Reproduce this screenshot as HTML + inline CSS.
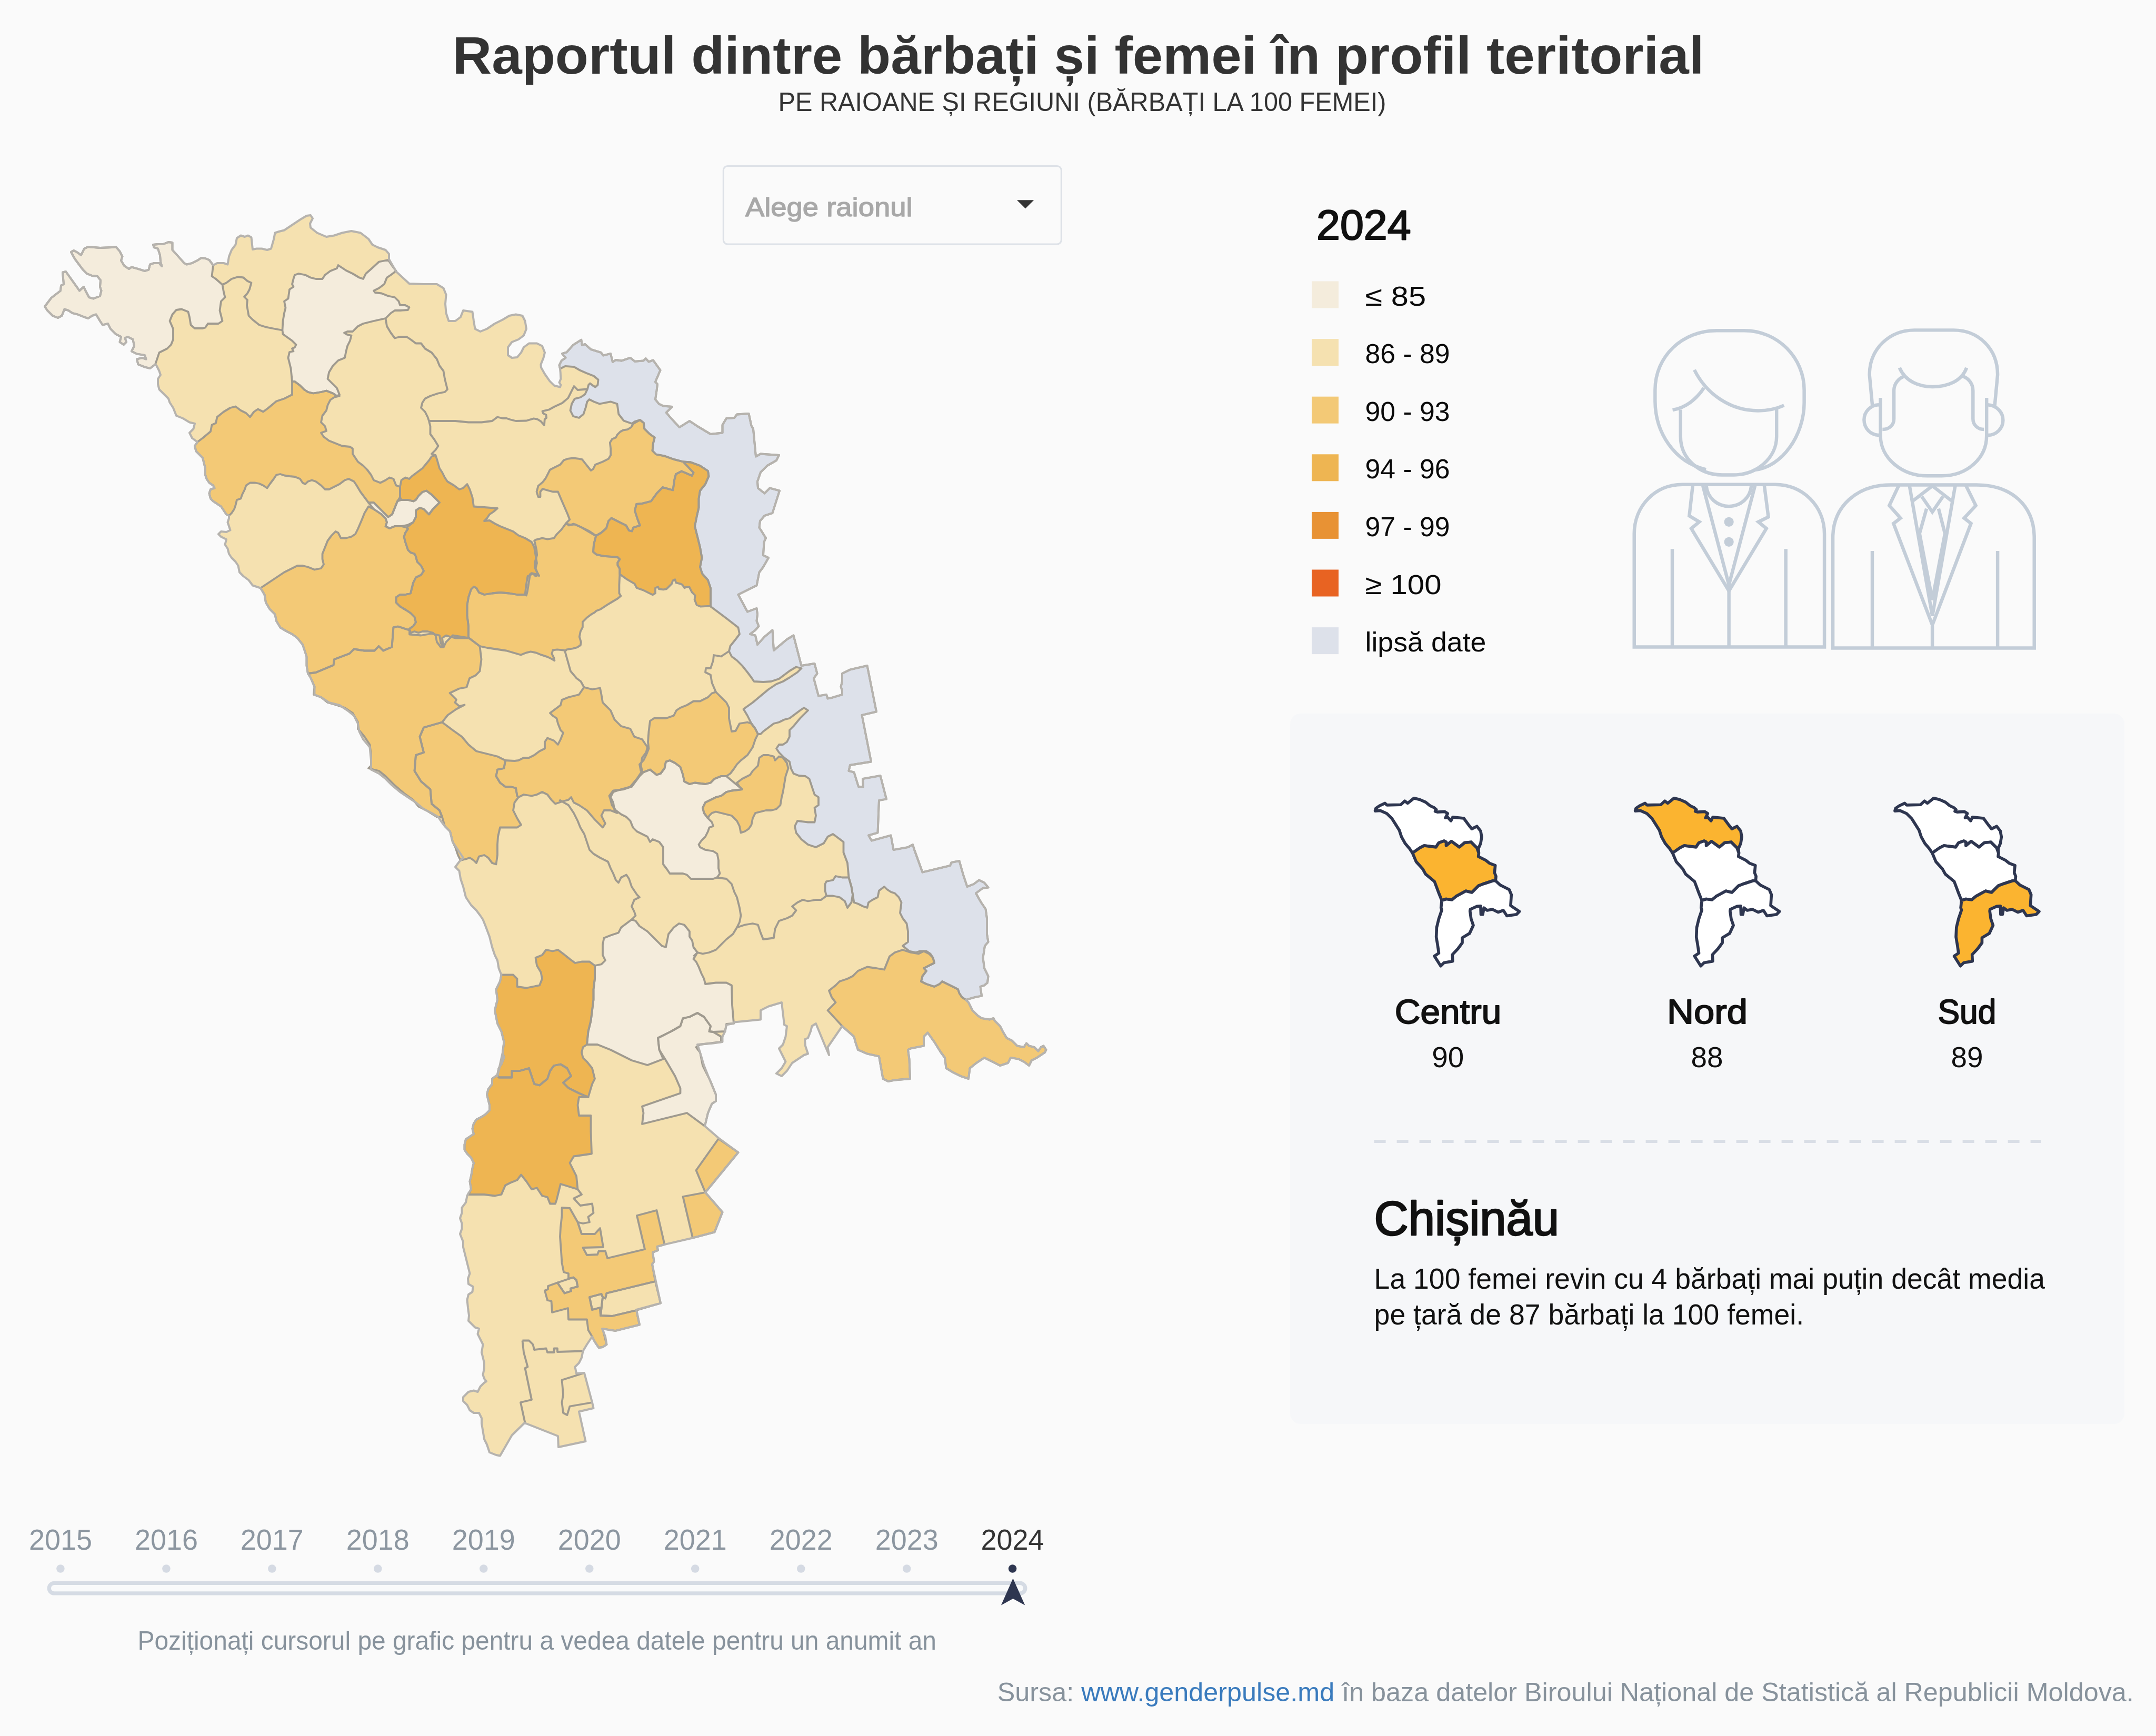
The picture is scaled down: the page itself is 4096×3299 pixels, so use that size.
<!DOCTYPE html>
<html lang="ro"><head><meta charset="utf-8"><title>Raportul dintre bărbați și femei în profil teritorial</title>
<style>
html,body{margin:0;padding:0;background:#fafafa;overflow:hidden;}
svg{display:block;width:100vw;height:auto;}
text{font-family:"Liberation Sans",Arial,sans-serif;}
.b{fill:none;stroke:#9f9a8f;stroke-width:3.8;stroke-linejoin:round;}
</style></head><body>
<svg viewBox="0 0 4096 3299" preserveAspectRatio="xMinYMin meet">
<rect width="4096" height="3299" fill="#fafafa"/>
<g id="map">
<path d="M85.0 582.5 L97.5 566.0 L115.0 552.5 L116.0 542.5 L121.0 540.0 L119.0 517.5 L125.0 516.0 L135.0 530.0 L147.5 547.5 L151.0 552.5 L159.0 545.0 L162.5 552.5 L169.0 565.0 L177.5 567.5 L190.0 562.5 L192.5 552.5 L190.0 545.0 L191.0 532.5 L185.0 525.0 L175.0 524.0 L165.0 520.0 L157.5 512.5 L150.0 502.5 L142.5 492.5 L135.0 479.0 L140.0 476.0 L147.5 480.0 L154.0 485.0 L160.0 472.5 L167.5 469.0 L190.0 471.0 L212.5 470.0 L220.0 469.0 L227.5 477.5 L232.5 487.5 L230.0 495.0 L236.0 505.0 L245.0 511.0 L250.0 507.5 L262.5 511.0 L275.0 515.0 L282.5 512.5 L285.0 502.5 L292.5 500.0 L302.5 500.0 L307.5 506.0 L305.0 497.5 L304.0 485.0 L300.0 472.5 L292.5 470.0 L291.0 465.0 L300.0 464.0 L310.0 464.0 L320.0 460.0 L327.5 461.0 L327.5 475.0 L337.5 486.0 L350.0 500.0 L355.0 502.5 L365.0 500.0 L375.0 495.0 L382.5 490.0 L390.0 491.0 L397.5 494.0 L405.0 504.0 L412.5 500.0 L425.0 500.0 L432.5 502.5 L435.0 487.5 L440.0 475.0 L447.5 465.0 L450.0 452.5 L457.5 447.5 L465.0 450.0 L471.0 447.5 L477.5 451.0 L479.0 465.0 L480.0 474.0 L487.5 472.5 L497.5 472.5 L507.5 475.0 L515.0 472.5 L520.0 455.0 L522.5 442.5 L530.0 440.0 L540.0 437.5 L555.0 427.5 L570.0 417.5 L582.5 410.0 L590.0 409.0 L594.0 415.0 L589.0 425.0 L590.0 432.5 L602.5 442.5 L620.0 450.0 L635.0 447.5 L650.0 442.5 L667.5 439.0 L685.0 442.5 L700.0 454.0 L707.5 465.0 L717.5 470.0 L732.5 475.0 L739.0 482.5 L739.0 492.5 L752.5 516.0 L777.5 539.0 L805.0 540.0 L830.0 540.0 L842.5 547.5 L847.5 560.0 L846.0 577.5 L847.5 595.0 L852.5 610.0 L865.0 610.0 L875.0 602.5 L880.0 590.0 L897.5 592.5 L900.0 610.0 L902.5 625.0 L912.5 630.0 L925.0 625.0 L940.0 615.0 L955.0 607.5 L967.5 600.0 L980.0 597.5 L992.5 600.0 L997.5 610.0 L1000.0 625.0 L995.0 637.5 L985.0 645.0 L972.5 650.0 L965.0 660.0 L965.0 675.0 L972.5 680.0 L982.5 679.0 L990.0 670.0 L995.0 660.0 L1005.0 652.5 L1020.0 652.5 L1030.0 657.5 L1035.0 670.0 L1032.5 680.0 L1027.5 692.5 L1027.8 698.0 L1034.8 710.5 L1044.5 724.4 L1052.9 732.7 L1064.0 735.5 L1065.4 731.3 L1062.5 727.0 L1065.4 720.0 L1064.7 707.5 L1064.0 700.7 L1062.5 693.8 L1066.8 685.4 L1074.5 679.9 L1068.0 672.0 L1076.5 669.4 L1089.0 655.5 L1104.3 645.8 L1105.8 656.0 L1111.3 654.0 L1122.5 663.9 L1142.0 670.0 L1146.0 675.5 L1160.0 672.0 L1164.0 688.0 L1169.8 684.0 L1181.0 685.5 L1197.5 679.9 L1206.0 686.8 L1222.5 685.4 L1226.8 681.2 L1232.4 687.5 L1240.8 684.5 L1254.5 703.5 L1245.0 725.8 L1249.0 730.0 L1247.5 742.5 L1245.0 759.0 L1251.8 767.5 L1260.0 771.5 L1277.0 773.0 L1265.8 784.0 L1272.8 792.5 L1290.8 812.0 L1310.0 800.0 L1325.0 810.0 L1350.0 825.0 L1372.5 822.5 L1372.5 807.5 L1380.0 795.0 L1395.0 794.0 L1400.0 787.5 L1422.5 786.0 L1427.5 809.0 L1431.0 815.0 L1436.0 867.5 L1445.0 862.5 L1480.0 865.0 L1475.0 875.0 L1457.5 885.0 L1445.0 897.5 L1439.0 915.0 L1440.0 927.5 L1452.5 937.5 L1462.5 927.5 L1481.0 932.5 L1467.5 975.0 L1452.5 980.0 L1444.0 990.0 L1442.5 1002.5 L1455.0 1022.5 L1451.5 1030.0 L1450.0 1055.0 L1460.0 1060.0 L1450.0 1077.5 L1442.5 1087.5 L1437.5 1112.5 L1427.5 1117.5 L1402.5 1130.0 L1420.0 1162.5 L1437.5 1156.0 L1439.0 1167.5 L1437.5 1180.0 L1441.5 1190.0 L1435.0 1197.5 L1425.0 1205.0 L1435.0 1207.5 L1439.0 1225.0 L1452.5 1210.0 L1467.5 1197.5 L1470.0 1236.0 L1495.0 1215.0 L1507.5 1207.5 L1522.5 1265.0 L1547.5 1261.0 L1552.5 1280.0 L1546.0 1289.0 L1555.0 1322.5 L1570.0 1320.0 L1572.5 1327.5 L1580.0 1326.0 L1600.0 1320.0 L1600.0 1312.5 L1597.5 1305.0 L1600.0 1295.0 L1600.0 1280.0 L1615.0 1272.5 L1647.5 1265.0 L1665.0 1352.5 L1637.5 1359.0 L1655.0 1447.5 L1615.0 1454.0 L1612.5 1465.0 L1622.5 1467.5 L1631.0 1495.0 L1640.0 1495.0 L1639.0 1480.0 L1672.5 1474.0 L1684.0 1518.5 L1670.0 1521.0 L1667.5 1582.5 L1650.0 1587.5 L1656.0 1597.5 L1692.5 1587.5 L1697.5 1615.0 L1725.0 1610.0 L1734.0 1605.0 L1737.5 1616.0 L1752.5 1657.5 L1805.0 1645.0 L1807.5 1639.0 L1822.5 1636.0 L1830.0 1662.5 L1837.5 1685.0 L1850.0 1680.0 L1860.0 1672.5 L1870.0 1677.5 L1877.5 1686.5 L1867.5 1687.5 L1854.0 1697.5 L1864.0 1715.0 L1872.5 1727.5 L1875.0 1745.0 L1875.0 1775.0 L1877.5 1790.0 L1871.0 1797.5 L1867.5 1820.0 L1870.0 1840.0 L1877.5 1855.0 L1876.0 1867.5 L1870.0 1872.5 L1862.5 1875.0 L1865.0 1892.5 L1852.5 1895.0 L1835.0 1900.0 L1840.0 1905.0 L1847.5 1920.0 L1857.5 1930.0 L1865.0 1935.0 L1880.0 1937.5 L1887.5 1935.0 L1890.0 1940.0 L1900.0 1950.0 L1905.0 1960.0 L1912.5 1972.5 L1922.5 1977.5 L1932.5 1987.5 L1945.0 1990.0 L1950.0 1982.5 L1955.0 1987.5 L1965.0 1990.0 L1972.5 1997.5 L1977.5 1990.0 L1982.5 1987.5 L1987.5 1995.0 L1985.0 2000.0 L1977.5 2005.0 L1970.0 2010.0 L1960.0 2015.0 L1955.0 2025.0 L1945.0 2017.5 L1935.0 2012.5 L1920.0 2010.0 L1915.0 2020.0 L1900.0 2025.0 L1885.0 2017.5 L1870.0 2010.0 L1855.0 2020.0 L1842.5 2030.0 L1840.0 2050.0 L1825.0 2045.0 L1810.0 2037.5 L1797.5 2030.0 L1795.0 2010.0 L1787.5 2000.0 L1775.0 1980.0 L1762.5 1962.5 L1755.0 1970.0 L1755.0 1987.5 L1742.5 1990.0 L1730.0 1992.5 L1725.0 1995.0 L1727.5 2012.5 L1729.0 2050.0 L1700.0 2052.5 L1687.5 2055.0 L1677.5 2050.0 L1670.0 2007.5 L1647.5 2002.5 L1630.0 1995.0 L1625.0 1980.0 L1622.5 1970.0 L1600.0 1950.0 L1572.5 1990.0 L1575.0 2005.0 L1567.5 1987.5 L1550.0 1945.0 L1542.5 1950.0 L1540.0 1960.0 L1535.0 1972.5 L1529.0 1975.0 L1530.0 1987.5 L1535.0 2002.5 L1527.5 2005.0 L1520.0 2010.0 L1505.0 2020.0 L1495.0 2035.0 L1485.0 2045.0 L1475.0 2040.0 L1485.0 2030.0 L1492.5 2017.5 L1487.5 2007.5 L1480.0 1992.5 L1487.5 1985.0 L1492.5 1970.0 L1495.0 1950.0 L1490.0 1947.5 L1485.0 1905.0 L1460.0 1912.5 L1445.0 1920.0 L1445.0 1937.5 L1420.0 1940.0 L1395.0 1942.5 L1392.5 1945.0 L1380.0 1947.5 L1377.5 1960.0 L1372.5 1970.0 L1372.5 1980.0 L1355.0 1982.5 L1325.0 1985.0 L1330.0 2000.0 L1337.5 2025.0 L1347.5 2050.0 L1355.0 2068.0 L1360.0 2080.0 L1360.0 2092.5 L1352.5 2097.5 L1345.0 2115.0 L1339.0 2140.0 L1365.0 2162.5 L1402.5 2190.0 L1340.0 2266.0 L1372.5 2303.5 L1357.5 2341.5 L1316.0 2352.5 L1262.5 2365.0 L1248.5 2369.0 L1250.0 2376.0 L1240.0 2380.0 L1242.5 2397.5 L1239.0 2402.5 L1246.0 2435.0 L1255.0 2476.5 L1209.0 2489.0 L1215.0 2517.5 L1169.0 2529.0 L1144.0 2525.0 L1150.0 2540.0 L1152.5 2555.0 L1145.0 2560.0 L1137.5 2561.0 L1130.0 2550.0 L1125.0 2540.0 L1115.0 2555.0 L1107.5 2567.5 L1105.0 2580.0 L1100.0 2590.0 L1092.5 2597.5 L1095.0 2610.0 L1110.0 2609.0 L1125.0 2665.0 L1127.5 2676.0 L1100.0 2682.5 L1112.5 2739.0 L1061.0 2750.0 L1060.0 2729.0 L996.5 2704.0 L972.5 2727.5 L950.0 2766.5 L942.5 2765.0 L930.0 2760.0 L925.0 2745.0 L920.0 2735.0 L917.5 2720.0 L915.0 2705.0 L915.0 2695.0 L910.0 2685.0 L900.0 2685.0 L892.5 2680.0 L887.5 2670.0 L880.0 2662.5 L880.0 2655.0 L890.0 2645.0 L900.0 2642.5 L907.5 2645.0 L912.5 2635.0 L920.0 2627.5 L924.0 2625.0 L920.0 2620.0 L917.5 2612.5 L920.0 2600.0 L920.0 2590.0 L917.5 2580.0 L915.0 2570.0 L917.5 2555.0 L912.5 2545.0 L907.5 2535.0 L910.0 2525.0 L902.5 2522.5 L897.5 2517.5 L890.0 2510.0 L891.0 2500.0 L889.0 2485.0 L887.5 2470.0 L890.0 2460.0 L897.5 2455.0 L898.5 2445.0 L890.0 2440.0 L889.0 2430.0 L892.5 2420.0 L890.0 2410.0 L887.5 2400.0 L885.0 2390.0 L882.5 2380.0 L880.0 2370.0 L880.0 2360.0 L874.0 2345.0 L877.5 2335.0 L877.5 2325.0 L874.0 2315.0 L877.5 2305.0 L877.5 2295.0 L885.0 2285.0 L887.5 2272.5 L890.0 2267.5 L895.0 2260.0 L892.5 2245.0 L895.0 2235.0 L897.5 2220.0 L900.0 2210.0 L895.0 2200.0 L887.5 2192.5 L882.5 2185.0 L882.5 2175.0 L885.0 2165.0 L892.5 2160.0 L900.0 2155.0 L897.5 2145.0 L900.0 2135.0 L905.0 2127.5 L915.0 2122.5 L922.5 2117.5 L930.0 2110.0 L930.0 2100.0 L927.5 2090.0 L925.0 2080.0 L927.5 2070.0 L935.0 2060.0 L935.0 2050.0 L945.0 2042.5 L947.5 2030.0 L952.5 2022.5 L957.5 2010.0 L955.0 2000.0 L945.0 2045.0 L950.0 2025.0 L955.0 2000.0 L957.5 1980.0 L952.5 1960.0 L945.0 1945.0 L940.0 1920.0 L945.0 1900.0 L942.5 1880.0 L950.0 1865.0 L952.5 1852.5 L947.5 1840.0 L945.0 1825.0 L940.0 1815.0 L935.0 1800.0 L930.0 1780.0 L922.5 1760.0 L917.5 1747.5 L912.5 1740.0 L905.0 1730.0 L895.0 1720.0 L885.0 1705.0 L880.0 1685.0 L875.0 1670.0 L872.5 1655.0 L865.0 1647.5 L872.5 1637.5 L880.0 1630.0 L870.0 1615.0 L860.0 1600.0 L857.5 1590.0 L855.0 1580.0 L845.0 1570.0 L837.5 1560.0 L832.5 1552.5 L820.0 1545.0 L805.0 1537.5 L790.0 1525.0 L775.0 1515.0 L760.0 1505.0 L745.0 1492.5 L732.5 1480.0 L720.0 1470.0 L705.0 1462.5 L705.0 1445.0 L702.5 1420.0 L690.0 1405.0 L682.5 1390.0 L680.0 1375.0 L672.5 1360.0 L660.0 1350.0 L645.0 1340.0 L625.0 1335.0 L610.0 1325.0 L597.5 1320.0 L597.5 1305.0 L590.0 1287.5 L585.0 1280.0 L582.5 1265.0 L582.5 1248.0 L580.0 1240.0 L575.0 1225.0 L565.0 1212.5 L555.0 1205.0 L545.0 1200.0 L532.5 1192.5 L525.0 1180.0 L522.5 1167.5 L512.5 1157.5 L505.0 1145.0 L502.5 1130.0 L495.0 1117.5 L487.5 1115.0 L480.0 1112.5 L472.5 1102.5 L462.5 1095.0 L455.0 1087.5 L452.5 1075.0 L447.5 1067.5 L440.0 1060.0 L435.0 1052.5 L432.5 1042.5 L427.5 1035.0 L430.0 1025.0 L425.0 1022.5 L420.0 1020.0 L415.0 1015.0 L420.0 1010.0 L430.0 1011.0 L437.5 1007.5 L435.0 1000.0 L432.5 992.5 L435.0 985.0 L435.0 980.0 L430.0 977.5 L425.0 970.0 L420.0 962.5 L412.5 957.5 L405.0 952.5 L400.0 947.5 L397.5 937.5 L400.0 930.0 L407.5 927.5 L405.0 922.5 L397.5 917.5 L392.5 910.0 L390.0 902.5 L390.0 890.0 L387.5 880.0 L385.0 870.0 L380.0 865.0 L372.5 857.5 L370.0 847.5 L375.0 840.0 L365.0 832.5 L360.0 822.5 L367.5 815.0 L370.0 805.0 L360.0 802.5 L347.5 795.0 L335.0 790.0 L329.0 775.0 L322.5 765.0 L320.0 757.5 L312.5 750.0 L302.5 740.0 L300.0 730.0 L300.0 720.0 L305.0 712.5 L302.5 705.0 L297.5 695.0 L295.0 692.5 L285.0 700.0 L275.0 697.5 L262.5 692.5 L260.0 682.5 L270.0 680.0 L277.5 682.5 L275.0 675.0 L260.0 672.5 L250.0 667.5 L255.0 657.5 L252.5 645.0 L242.5 640.0 L237.5 642.5 L240.0 650.0 L235.0 655.0 L227.5 650.0 L230.0 640.0 L220.0 635.0 L210.0 625.0 L205.0 615.0 L195.0 617.5 L190.0 610.0 L182.5 597.5 L175.0 600.0 L167.5 605.0 L160.0 602.5 L147.5 597.5 L137.5 595.0 L130.0 590.0 L122.5 587.5 L117.5 600.0 L110.0 604.0 L100.0 600.0 L90.0 590.0Z" fill="#f5e1b0"/>
<path d="M85.0 582.5 L97.5 566.0 L115.0 552.5 L116.0 542.5 L121.0 540.0 L119.0 517.5 L125.0 516.0 L135.0 530.0 L147.5 547.5 L151.0 552.5 L159.0 545.0 L162.5 552.5 L169.0 565.0 L177.5 567.5 L190.0 562.5 L192.5 552.5 L190.0 545.0 L191.0 532.5 L185.0 525.0 L175.0 524.0 L165.0 520.0 L157.5 512.5 L150.0 502.5 L142.5 492.5 L135.0 479.0 L140.0 476.0 L147.5 480.0 L154.0 485.0 L160.0 472.5 L167.5 469.0 L190.0 471.0 L212.5 470.0 L220.0 469.0 L227.5 477.5 L232.5 487.5 L230.0 495.0 L236.0 505.0 L245.0 511.0 L250.0 507.5 L262.5 511.0 L275.0 515.0 L282.5 512.5 L285.0 502.5 L292.5 500.0 L302.5 500.0 L307.5 506.0 L305.0 497.5 L304.0 485.0 L300.0 472.5 L292.5 470.0 L291.0 465.0 L300.0 464.0 L310.0 464.0 L320.0 460.0 L327.5 461.0 L327.5 475.0 L337.5 486.0 L350.0 500.0 L355.0 502.5 L365.0 500.0 L375.0 495.0 L382.5 490.0 L390.0 491.0 L397.5 494.0 L405.0 504.0 L402.5 525.0 L410.0 530.0 L422.5 541.0 L425.0 555.0 L427.5 565.0 L420.0 572.5 L417.5 590.0 L422.5 610.0 L415.0 615.0 L402.5 615.0 L395.0 615.0 L390.0 622.5 L385.0 624.0 L370.0 624.0 L362.5 617.5 L360.0 602.5 L357.5 592.5 L345.0 587.5 L335.0 589.0 L327.5 597.5 L322.5 610.0 L329.0 625.0 L329.0 645.0 L325.0 655.0 L317.5 662.5 L302.5 670.0 L297.5 685.0 L295.0 692.5 L285.0 700.0 L275.0 697.5 L262.5 692.5 L260.0 682.5 L270.0 680.0 L277.5 682.5 L275.0 675.0 L260.0 672.5 L250.0 667.5 L255.0 657.5 L252.5 645.0 L242.5 640.0 L237.5 642.5 L240.0 650.0 L235.0 655.0 L227.5 650.0 L230.0 640.0 L220.0 635.0 L210.0 625.0 L205.0 615.0 L195.0 617.5 L190.0 610.0 L182.5 597.5 L175.0 600.0 L167.5 605.0 L160.0 602.5 L147.5 597.5 L137.5 595.0 L130.0 590.0 L122.5 587.5 L117.5 600.0 L110.0 604.0 L100.0 600.0 L90.0 590.0Z" fill="#f4ecdc"/>
<path d="M737.5 494.0 L745.0 505.0 L752.5 515.0 L742.5 522.5 L735.0 527.5 L730.0 540.0 L720.0 547.5 L710.0 552.5 L712.5 556.0 L725.0 557.5 L737.5 562.5 L750.0 565.0 L757.5 572.5 L760.0 580.0 L770.0 580.0 L777.5 584.0 L775.0 589.0 L760.0 590.0 L750.0 590.0 L742.5 595.0 L732.5 605.0 L710.0 610.0 L690.0 615.0 L680.0 620.0 L670.0 630.0 L660.0 630.0 L654.0 632.5 L660.0 636.0 L667.5 637.5 L665.0 647.5 L660.0 657.5 L657.5 667.5 L655.0 680.0 L642.5 685.0 L632.5 695.0 L625.0 707.5 L622.5 720.0 L632.5 730.0 L640.0 737.5 L645.0 750.0 L640.0 752.5 L632.5 747.5 L620.0 742.5 L610.0 745.0 L595.0 747.5 L585.0 745.0 L577.5 740.0 L570.0 732.5 L560.0 725.0 L555.0 725.0 L552.5 700.0 L547.5 680.0 L550.0 669.0 L557.5 667.5 L555.0 662.5 L560.0 660.0 L562.5 655.0 L555.0 647.5 L537.5 635.0 L536.5 627.5 L537.5 610.0 L540.0 595.0 L542.5 585.0 L540.0 572.5 L547.5 567.5 L550.0 550.0 L557.5 545.0 L555.0 540.0 L557.5 530.0 L560.0 522.5 L567.5 520.0 L580.0 522.5 L590.0 527.5 L600.0 530.0 L612.5 530.0 L617.5 522.5 L627.5 515.0 L640.0 510.0 L642.5 504.0 L657.5 514.0 L670.0 520.0 L682.5 527.5 L690.0 530.0 L695.0 520.0 L707.5 509.0 L720.0 497.5Z" fill="#f4ecdc"/>
<path d="M375.0 840.0 L385.0 832.5 L400.0 820.0 L402.5 807.5 L410.0 804.0 L412.5 792.5 L425.0 782.5 L437.5 775.0 L447.5 772.5 L457.5 780.0 L467.5 785.0 L475.0 792.5 L482.5 782.5 L490.0 777.5 L500.0 782.5 L510.0 775.0 L525.0 762.5 L540.0 757.5 L555.0 750.0 L555.0 725.0 L560.0 725.0 L570.0 732.5 L577.5 740.0 L585.0 745.0 L595.0 747.5 L610.0 745.0 L620.0 742.5 L632.5 747.5 L640.0 752.5 L645.0 752.5 L635.0 755.0 L627.5 760.0 L622.5 770.0 L620.0 780.0 L612.5 790.0 L610.0 802.5 L617.5 810.0 L620.0 819.0 L610.0 822.5 L615.0 830.0 L625.0 837.5 L637.5 842.5 L650.0 847.5 L665.0 849.0 L670.0 852.5 L670.0 862.5 L675.0 870.0 L680.0 877.5 L690.0 885.0 L697.5 892.5 L705.0 902.5 L710.0 912.5 L722.5 917.5 L732.5 912.5 L740.0 907.5 L747.5 910.0 L752.5 922.5 L760.0 925.0 L760.0 945.0 L755.0 952.5 L750.0 965.0 L745.0 977.5 L737.5 982.5 L732.5 977.5 L725.0 970.0 L717.5 962.5 L710.0 955.0 L700.0 955.0 L692.5 945.0 L685.0 935.0 L677.5 922.5 L672.5 915.0 L662.5 910.0 L655.0 912.5 L645.0 920.0 L635.0 925.0 L625.0 930.0 L617.5 930.0 L610.0 922.5 L600.0 915.0 L592.5 912.5 L585.0 915.0 L580.0 920.0 L575.0 917.5 L570.0 910.0 L560.0 906.0 L550.0 905.0 L540.0 903.5 L532.5 901.0 L525.0 902.5 L520.0 910.0 L512.5 920.0 L507.5 927.5 L500.0 922.5 L492.5 919.0 L485.0 917.5 L475.0 917.5 L467.5 922.5 L465.0 930.0 L460.0 940.0 L457.5 947.5 L450.0 950.0 L447.5 960.0 L445.0 967.5 L440.0 975.0 L435.0 980.0 L430.0 977.5 L425.0 970.0 L420.0 962.5 L412.5 957.5 L405.0 952.5 L400.0 947.5 L397.5 937.5 L400.0 930.0 L407.5 927.5 L405.0 922.5 L397.5 917.5 L392.5 910.0 L390.0 902.5 L390.0 890.0 L387.5 880.0 L385.0 870.0 L380.0 865.0 L372.5 857.5 L370.0 847.5Z" fill="#f3c976"/>
<path d="M700.0 955.0 L710.0 967.5 L717.5 972.5 L725.0 977.5 L732.5 985.0 L735.0 992.5 L732.5 1000.0 L740.0 1004.0 L750.0 1000.0 L762.5 1000.0 L775.0 997.5 L785.0 992.5 L790.0 982.5 L790.0 970.0 L797.5 965.0 L805.0 967.5 L815.0 977.5 L822.5 967.5 L835.0 955.0 L827.5 947.5 L820.0 940.0 L810.0 932.5 L802.5 935.0 L795.0 942.5 L790.0 950.0 L785.0 952.5 L775.0 950.0 L762.5 950.0 L755.0 952.5 L750.0 965.0 L745.0 977.5 L737.5 982.5 L732.5 977.5 L725.0 970.0 L717.5 962.5 L710.0 955.0Z" fill="#f4ecdc"/>
<path d="M760.0 925.0 L762.5 912.5 L770.0 907.5 L777.5 910.0 L782.5 905.0 L792.5 897.5 L802.5 890.0 L815.0 875.0 L820.0 867.5 L827.5 865.0 L830.0 872.5 L835.0 890.0 L840.0 897.5 L845.0 907.5 L850.0 915.0 L862.5 922.5 L872.5 930.0 L880.0 927.5 L887.5 920.0 L892.5 930.0 L897.5 945.0 L900.0 962.5 L920.0 964.0 L945.0 966.0 L937.5 972.5 L930.0 977.5 L925.0 985.0 L920.0 990.0 L930.0 989.0 L940.0 995.0 L950.0 1000.0 L962.5 1005.0 L975.0 1010.0 L985.0 1017.5 L997.5 1022.5 L1010.0 1030.0 L1015.0 1040.0 L1017.5 1055.0 L1020.0 1070.0 L1017.5 1080.0 L1022.5 1092.5 L1017.5 1095.0 L1012.5 1090.0 L1002.5 1095.0 L1000.0 1110.0 L997.5 1130.0 L982.5 1130.0 L967.5 1127.5 L950.0 1126.0 L935.0 1127.5 L920.0 1130.0 L910.0 1126.0 L905.0 1117.5 L900.0 1115.0 L895.0 1120.0 L890.0 1135.0 L887.5 1150.0 L887.5 1170.0 L890.0 1190.0 L890.0 1212.5 L880.0 1212.5 L865.0 1212.5 L855.0 1210.0 L847.5 1207.5 L840.0 1212.5 L842.5 1230.0 L837.5 1230.0 L830.0 1220.0 L827.5 1207.5 L822.5 1202.5 L812.5 1200.0 L802.5 1200.0 L795.0 1202.5 L787.5 1200.0 L780.0 1202.5 L777.5 1195.0 L785.0 1190.0 L790.0 1182.5 L787.5 1172.5 L780.0 1165.0 L772.5 1160.0 L760.0 1152.5 L752.5 1145.0 L752.5 1135.0 L760.0 1130.0 L770.0 1130.0 L780.0 1127.5 L782.5 1117.5 L785.0 1107.5 L790.0 1097.5 L800.0 1092.5 L805.0 1085.0 L800.0 1075.0 L792.5 1067.5 L790.0 1057.5 L787.5 1052.5 L780.0 1050.0 L775.0 1045.0 L770.0 1030.0 L767.5 1020.0 L770.0 1012.5 L775.0 1005.0 L772.5 1002.5 L785.0 992.5 L790.0 982.5 L790.0 970.0 L797.5 965.0 L805.0 967.5 L815.0 977.5 L822.5 967.5 L835.0 955.0 L827.5 947.5 L820.0 940.0 L810.0 932.5 L802.5 935.0 L795.0 942.5 L790.0 950.0 L785.0 952.5 L775.0 950.0 L762.5 950.0 L760.0 945.0Z" fill="#eeb552"/>
<path d="M495.0 1117.5 L510.0 1107.5 L525.0 1097.5 L540.0 1087.5 L555.0 1080.0 L565.0 1075.0 L575.0 1075.0 L585.0 1077.5 L597.5 1082.5 L610.0 1080.0 L615.0 1072.5 L612.5 1062.5 L612.5 1052.5 L617.5 1040.0 L622.5 1027.5 L630.0 1017.5 L637.5 1010.0 L642.5 1012.5 L647.5 1022.5 L657.5 1022.5 L667.5 1020.0 L675.0 1015.0 L680.0 1005.0 L687.5 987.5 L692.5 975.0 L700.0 962.5 L710.0 967.5 L717.5 972.5 L725.0 977.5 L732.5 985.0 L735.0 992.5 L732.5 1000.0 L740.0 1004.0 L750.0 1000.0 L762.5 1000.0 L772.5 1002.5 L775.0 1005.0 L770.0 1012.5 L767.5 1020.0 L770.0 1030.0 L775.0 1045.0 L780.0 1050.0 L787.5 1052.5 L790.0 1057.5 L792.5 1067.5 L800.0 1075.0 L805.0 1085.0 L800.0 1092.5 L790.0 1097.5 L785.0 1107.5 L782.5 1117.5 L780.0 1127.5 L770.0 1130.0 L760.0 1130.0 L752.5 1135.0 L752.5 1145.0 L760.0 1152.5 L772.5 1160.0 L780.0 1165.0 L787.5 1172.5 L790.0 1182.5 L785.0 1190.0 L777.5 1195.0 L780.0 1202.5 L778.0 1197.5 L756.0 1190.5 L747.5 1192.0 L744.5 1229.5 L728.0 1236.5 L719.5 1228.0 L711.5 1236.5 L692.0 1236.5 L672.5 1233.5 L664.0 1242.0 L635.0 1253.0 L633.5 1264.0 L600.0 1278.0 L585.0 1280.0 L582.5 1265.0 L582.5 1248.0 L580.0 1240.0 L575.0 1225.0 L565.0 1212.5 L555.0 1205.0 L545.0 1200.0 L532.5 1192.5 L525.0 1180.0 L522.5 1167.5 L512.5 1157.5 L505.0 1145.0 L502.5 1130.0Z" fill="#f3c976"/>
<path d="M1203.3 805.0 L1215.8 798.0 L1222.8 803.5 L1224.2 814.8 L1234.0 824.5 L1243.7 831.5 L1240.9 842.5 L1239.5 856.5 L1246.5 863.5 L1261.8 866.3 L1281.2 873.2 L1298.0 877.5 L1317.5 898.3 L1314.5 904.0 L1295.0 895.5 L1284.0 901.0 L1281.2 912.0 L1278.5 931.5 L1259.0 926.0 L1248.0 937.2 L1236.8 952.5 L1220.0 956.8 L1209.0 958.0 L1206.0 970.5 L1211.5 987.5 L1215.8 998.5 L1203.3 1002.5 L1200.5 1009.5 L1195.0 1008.2 L1189.5 998.5 L1178.3 993.0 L1161.5 984.5 L1156.0 990.0 L1151.8 1004.0 L1142.0 1012.5 L1132.4 1018.0 L1119.8 1009.5 L1103.0 1001.2 L1089.2 995.5 L1080.9 998.5 L1075.3 994.3 L1082.3 987.4 L1078.0 976.2 L1067.0 951.0 L1060.0 934.5 L1050.3 934.5 L1039.2 931.5 L1030.8 929.0 L1026.5 934.5 L1026.5 944.2 L1022.5 944.2 L1019.5 934.5 L1022.5 923.4 L1030.8 916.4 L1036.3 909.5 L1042.0 898.3 L1044.7 892.8 L1053.0 888.5 L1064.2 883.0 L1071.2 874.5 L1078.0 871.9 L1089.2 870.5 L1100.4 871.9 L1106.0 873.2 L1111.5 880.2 L1117.0 887.0 L1122.5 894.0 L1126.8 891.4 L1131.0 883.0 L1144.9 877.5 L1156.0 871.9 L1160.2 864.9 L1160.2 852.4 L1158.8 841.2 L1163.0 834.3 L1170.0 831.5 L1172.8 826.0 L1178.3 820.5 L1183.8 817.5 L1192.2 816.2 L1199.0 812.0Z" fill="#f3c976"/>
<path d="M1132.4 1018.0 L1142.0 1012.5 L1151.8 1004.0 L1156.0 990.0 L1161.5 984.5 L1178.3 993.0 L1189.5 998.5 L1195.0 1008.2 L1200.5 1009.5 L1203.3 1002.5 L1215.8 998.5 L1211.5 987.5 L1206.0 970.5 L1209.0 958.0 L1220.0 956.8 L1236.8 952.5 L1248.0 937.2 L1259.0 926.0 L1278.5 931.5 L1281.2 912.0 L1284.0 901.0 L1295.0 895.5 L1314.5 904.0 L1317.5 898.3 L1298.0 877.5 L1312.5 878.5 L1330.0 885.0 L1345.0 895.0 L1346.5 905.0 L1340.0 920.0 L1330.0 932.5 L1327.5 947.5 L1327.5 965.0 L1324.0 980.0 L1320.0 1000.0 L1325.0 1020.0 L1330.0 1040.0 L1333.5 1060.0 L1330.0 1077.5 L1334.0 1090.0 L1345.0 1102.5 L1350.0 1117.5 L1350.0 1152.5 L1348.8 1151.6 L1330.6 1152.6 L1323.6 1149.6 L1319.6 1139.5 L1320.6 1131.5 L1314.5 1125.4 L1309.5 1115.3 L1304.4 1115.3 L1300.4 1117.3 L1296.4 1111.3 L1292.3 1109.3 L1284.3 1107.3 L1282.3 1101.2 L1278.2 1103.2 L1276.2 1109.3 L1270.2 1115.3 L1266.1 1119.4 L1260.1 1120.4 L1252.0 1119.4 L1250.0 1115.3 L1245.0 1117.3 L1245.0 1127.4 L1239.9 1130.4 L1229.8 1125.4 L1221.8 1121.4 L1209.7 1117.3 L1205.6 1109.3 L1191.5 1101.2 L1177.4 1091.1 L1177.4 1081.0 L1173.4 1074.0 L1173.4 1069.0 L1177.4 1062.9 L1173.4 1058.9 L1161.3 1057.9 L1147.2 1056.9 L1133.1 1053.8 L1127.0 1048.8 L1128.0 1034.7Z" fill="#eeb552"/>
<path d="M1015.1 1027.6 L1018.1 1025.6 L1030.2 1022.6 L1040.3 1024.6 L1052.4 1022.6 L1057.5 1015.5 L1066.5 1006.5 L1074.6 995.4 L1084.7 997.4 L1092.7 996.4 L1104.8 1002.4 L1116.9 1009.5 L1132.1 1018.5 L1128.0 1034.7 L1127.0 1048.8 L1133.1 1053.8 L1147.2 1056.9 L1161.3 1057.9 L1173.4 1058.9 L1177.4 1062.9 L1173.4 1069.0 L1173.4 1074.0 L1177.4 1081.0 L1177.4 1091.1 L1176.4 1111.3 L1176.4 1127.4 L1179.4 1132.5 L1173.4 1137.5 L1163.3 1143.5 L1153.2 1149.6 L1141.1 1157.7 L1133.1 1160.7 L1130.0 1163.7 L1123.0 1167.7 L1114.9 1173.8 L1106.9 1181.9 L1106.9 1191.9 L1102.8 1200.0 L1100.8 1210.1 L1103.8 1220.2 L1102.8 1226.2 L1096.8 1230.2 L1088.7 1232.3 L1076.6 1234.3 L1074.6 1236.3 L1068.5 1235.3 L1058.5 1234.3 L1050.4 1235.3 L1048.4 1242.3 L1052.4 1250.4 L1053.4 1255.4 L1048.4 1252.4 L1040.3 1248.4 L1028.2 1244.4 L1018.1 1240.3 L1008.1 1238.3 L1000.0 1240.3 L989.5 1244.5 L962.0 1236.5 L925.5 1231.0 L911.5 1228.0 L891.0 1212.5 L890.0 1212.5 L890.0 1190.0 L887.5 1170.0 L887.5 1150.0 L890.0 1135.0 L895.0 1120.0 L900.0 1115.0 L905.0 1117.5 L910.0 1126.0 L920.0 1130.0 L935.0 1127.5 L950.0 1126.0 L967.5 1127.5 L982.5 1130.0 L997.5 1130.0 L1000.0 1131.5 L1002.0 1123.4 L1007.1 1091.1 L1010.1 1089.1 L1014.1 1090.1 L1018.1 1091.1 L1024.2 1094.2 L1020.2 1087.1 L1016.1 1079.0 L1016.1 1069.0 L1020.2 1054.8 L1019.2 1044.8 L1016.1 1030.6Z" fill="#f3c976"/>
<path d="M1064.0 700.7 L1062.5 693.8 L1066.8 685.4 L1074.5 679.9 L1068.0 672.0 L1076.5 669.4 L1089.0 655.5 L1104.3 645.8 L1105.8 656.0 L1111.3 654.0 L1122.5 663.9 L1142.0 670.0 L1146.0 675.5 L1160.0 672.0 L1164.0 688.0 L1169.8 684.0 L1181.0 685.5 L1197.5 679.9 L1206.0 686.8 L1222.5 685.4 L1226.8 681.2 L1232.4 687.5 L1240.8 684.5 L1254.5 703.5 L1245.0 725.8 L1249.0 730.0 L1247.5 742.5 L1245.0 759.0 L1251.8 767.5 L1260.0 771.5 L1277.0 773.0 L1265.8 784.0 L1272.8 792.5 L1290.8 812.0 L1310.0 800.0 L1325.0 810.0 L1350.0 825.0 L1372.5 822.5 L1372.5 807.5 L1380.0 795.0 L1395.0 794.0 L1400.0 787.5 L1422.5 786.0 L1427.5 809.0 L1431.0 815.0 L1436.0 867.5 L1445.0 862.5 L1480.0 865.0 L1475.0 875.0 L1457.5 885.0 L1445.0 897.5 L1439.0 915.0 L1440.0 927.5 L1452.5 937.5 L1462.5 927.5 L1481.0 932.5 L1467.5 975.0 L1452.5 980.0 L1444.0 990.0 L1442.5 1002.5 L1455.0 1022.5 L1451.5 1030.0 L1450.0 1055.0 L1460.0 1060.0 L1450.0 1077.5 L1442.5 1087.5 L1437.5 1112.5 L1427.5 1117.5 L1402.5 1130.0 L1420.0 1162.5 L1437.5 1156.0 L1439.0 1167.5 L1437.5 1180.0 L1441.5 1190.0 L1435.0 1197.5 L1425.0 1205.0 L1435.0 1207.5 L1439.0 1225.0 L1452.5 1210.0 L1467.5 1197.5 L1470.0 1236.0 L1495.0 1215.0 L1507.5 1207.5 L1522.5 1265.0 L1547.5 1261.0 L1552.5 1280.0 L1546.0 1289.0 L1555.0 1322.5 L1570.0 1320.0 L1572.5 1327.5 L1580.0 1326.0 L1600.0 1320.0 L1600.0 1312.5 L1597.5 1305.0 L1600.0 1295.0 L1600.0 1280.0 L1615.0 1272.5 L1647.5 1265.0 L1665.0 1352.5 L1637.5 1359.0 L1655.0 1447.5 L1615.0 1454.0 L1612.5 1465.0 L1622.5 1467.5 L1631.0 1495.0 L1640.0 1495.0 L1639.0 1480.0 L1672.5 1474.0 L1684.0 1518.5 L1670.0 1521.0 L1667.5 1582.5 L1650.0 1587.5 L1656.0 1597.5 L1692.5 1587.5 L1697.5 1615.0 L1725.0 1610.0 L1734.0 1605.0 L1737.5 1616.0 L1752.5 1657.5 L1805.0 1645.0 L1807.5 1639.0 L1822.5 1636.0 L1830.0 1662.5 L1837.5 1685.0 L1850.0 1680.0 L1860.0 1672.5 L1870.0 1677.5 L1877.5 1686.5 L1867.5 1687.5 L1854.0 1697.5 L1864.0 1715.0 L1872.5 1727.5 L1875.0 1745.0 L1875.0 1775.0 L1877.5 1790.0 L1871.0 1797.5 L1867.5 1820.0 L1870.0 1840.0 L1877.5 1855.0 L1876.0 1867.5 L1870.0 1872.5 L1862.5 1875.0 L1865.0 1892.5 L1852.5 1895.0 L1835.0 1900.0 L1827.5 1895.0 L1822.5 1887.5 L1820.0 1880.0 L1810.0 1875.0 L1800.0 1870.0 L1790.0 1865.0 L1785.0 1870.0 L1775.0 1875.0 L1767.5 1872.5 L1760.0 1870.0 L1750.0 1865.0 L1752.5 1855.0 L1760.0 1845.0 L1755.0 1840.0 L1765.0 1835.0 L1775.0 1830.0 L1772.5 1820.0 L1767.5 1812.5 L1760.0 1807.5 L1747.5 1807.5 L1740.0 1810.0 L1727.5 1807.5 L1715.0 1797.5 L1725.0 1790.0 L1725.0 1770.0 L1722.5 1755.0 L1715.0 1745.0 L1710.0 1735.0 L1712.5 1715.0 L1707.5 1705.0 L1700.0 1697.5 L1692.5 1695.0 L1685.0 1690.0 L1680.0 1685.0 L1670.0 1692.5 L1667.5 1705.0 L1657.5 1710.0 L1650.0 1715.0 L1647.5 1725.0 L1640.0 1722.5 L1630.0 1717.5 L1622.5 1715.0 L1620.0 1700.0 L1617.5 1685.0 L1612.5 1667.5 L1610.0 1640.0 L1602.5 1620.0 L1602.5 1600.0 L1592.5 1592.5 L1582.5 1585.0 L1572.5 1590.0 L1565.0 1602.5 L1550.0 1610.0 L1535.0 1605.0 L1522.5 1595.0 L1512.5 1582.5 L1510.0 1570.0 L1515.0 1560.0 L1535.0 1562.5 L1547.5 1562.5 L1550.0 1550.0 L1547.5 1535.0 L1555.0 1530.0 L1555.0 1515.0 L1547.5 1510.0 L1542.5 1495.0 L1537.5 1480.0 L1530.0 1475.0 L1517.5 1474.0 L1507.5 1470.0 L1502.5 1460.0 L1500.0 1447.5 L1490.0 1440.0 L1485.0 1435.0 L1480.0 1430.0 L1475.0 1422.5 L1480.0 1415.0 L1487.5 1415.0 L1495.0 1410.0 L1500.0 1400.0 L1500.0 1387.5 L1507.5 1380.0 L1520.0 1365.0 L1527.5 1357.5 L1535.0 1350.0 L1527.5 1345.0 L1520.0 1350.0 L1510.0 1357.5 L1500.0 1365.0 L1490.0 1367.5 L1480.0 1372.5 L1470.0 1375.0 L1460.0 1382.5 L1450.0 1390.0 L1445.0 1395.0 L1440.0 1395.0 L1435.0 1385.0 L1427.5 1375.0 L1420.0 1360.0 L1412.5 1347.5 L1430.0 1335.0 L1445.0 1322.5 L1460.0 1310.0 L1475.0 1300.0 L1487.5 1295.0 L1500.0 1287.5 L1515.0 1277.5 L1522.5 1270.0 L1512.5 1267.5 L1500.0 1275.0 L1490.0 1282.5 L1480.0 1290.0 L1465.0 1295.0 L1450.0 1296.0 L1432.5 1295.0 L1427.5 1287.5 L1420.0 1277.5 L1410.0 1265.0 L1400.0 1255.0 L1390.0 1247.5 L1385.0 1237.5 L1387.5 1227.5 L1397.5 1215.0 L1405.0 1205.0 L1402.5 1192.5 L1380.0 1175.0 L1350.0 1152.5 L1350.0 1117.5 L1345.0 1102.5 L1334.0 1090.0 L1330.0 1077.5 L1333.5 1060.0 L1330.0 1040.0 L1325.0 1020.0 L1320.0 1000.0 L1324.0 980.0 L1327.5 965.0 L1327.5 947.5 L1330.0 932.5 L1340.0 920.0 L1346.5 905.0 L1345.0 895.0 L1330.0 885.0 L1312.5 878.5 L1298.0 877.5 L1281.2 873.2 L1261.8 866.3 L1246.5 863.5 L1239.5 856.5 L1240.9 842.5 L1243.7 831.5 L1234.0 824.5 L1224.2 814.8 L1222.8 803.5 L1215.8 798.0 L1206.0 801.0 L1200.4 805.0 L1185.0 799.5 L1175.3 787.0 L1172.5 767.5 L1160.0 763.3 L1139.0 767.5 L1128.0 763.3 L1119.5 759.0 L1115.5 763.3 L1112.7 774.5 L1108.5 787.0 L1100.0 794.0 L1089.0 791.0 L1083.5 780.0 L1086.2 767.5 L1091.8 757.8 L1103.0 755.0 L1111.3 749.5 L1116.0 739.5 L1118.2 731.3 L1121.0 728.5 L1126.0 732.5 L1131.0 735.5 L1135.5 731.5 L1136.5 721.5 L1128.0 714.5 L1114.0 709.0 L1101.5 703.5 L1090.5 697.2 L1073.8 695.9Z" fill="#dde1ea"/>
<path d="M1567.5 1680.0 L1570.0 1675.0 L1582.5 1672.5 L1587.5 1665.0 L1600.0 1667.5 L1612.5 1667.5 L1617.5 1685.0 L1620.0 1700.0 L1617.5 1715.0 L1610.0 1725.0 L1605.0 1712.5 L1595.0 1705.0 L1582.5 1702.5 L1570.0 1702.5 L1567.5 1692.5Z" fill="#dde1ea"/>
<path d="M585.0 1280.0 L600.0 1278.0 L633.5 1264.0 L635.0 1253.0 L664.0 1242.0 L672.5 1233.5 L692.0 1236.5 L711.5 1236.5 L719.5 1228.0 L728.0 1236.5 L744.5 1229.5 L747.5 1192.0 L756.0 1190.5 L778.0 1197.5 L778.0 1205.5 L800.0 1207.5 L820.0 1204.0 L835.0 1207.5 L837.5 1222.5 L842.5 1230.0 L847.5 1220.0 L860.0 1207.5 L891.0 1212.5 L911.5 1228.0 L914.5 1253.0 L911.5 1275.5 L903.5 1283.5 L892.0 1289.0 L886.5 1306.0 L872.5 1308.5 L854.5 1317.0 L867.0 1329.5 L864.5 1335.0 L872.5 1342.0 L882.5 1339.5 L867.0 1347.5 L850.5 1359.0 L840.0 1372.5 L805.0 1382.5 L797.5 1400.0 L805.0 1430.0 L790.0 1435.0 L787.5 1465.0 L800.0 1485.0 L817.5 1500.0 L820.0 1527.5 L835.0 1540.0 L840.0 1552.5 L830.0 1552.5 L810.0 1540.0 L795.0 1532.5 L785.0 1520.0 L767.5 1507.5 L750.0 1492.5 L732.5 1475.0 L720.0 1465.0 L700.0 1460.0 L705.0 1455.0 L705.0 1435.0 L702.5 1415.0 L692.5 1400.0 L680.0 1385.0 L680.0 1372.5 L670.0 1355.0 L655.0 1345.0 L640.0 1340.0 L622.5 1335.0 L610.0 1325.0 L596.0 1320.0 L597.5 1305.0 L590.0 1287.5Z" fill="#f3c976"/>
<path d="M840.0 1372.5 L860.0 1387.5 L877.5 1400.0 L890.0 1415.0 L905.0 1427.5 L925.0 1432.5 L945.0 1437.5 L960.0 1445.0 L957.5 1460.0 L945.0 1462.5 L942.5 1475.0 L950.0 1487.5 L960.0 1495.0 L970.0 1495.0 L980.0 1497.5 L982.5 1512.5 L985.0 1515.0 L977.5 1525.0 L975.0 1540.0 L982.5 1555.0 L990.0 1567.5 L982.5 1572.5 L965.0 1572.5 L950.0 1572.5 L946.0 1590.0 L945.0 1605.0 L945.0 1625.0 L942.5 1642.5 L935.0 1640.0 L927.5 1630.0 L920.0 1625.0 L910.0 1627.5 L905.0 1640.0 L900.0 1635.0 L892.5 1630.0 L885.0 1632.5 L875.0 1635.0 L870.0 1625.0 L865.0 1610.0 L860.0 1600.0 L857.5 1590.0 L855.0 1580.0 L845.0 1570.0 L840.0 1552.5 L835.0 1540.0 L820.0 1527.5 L817.5 1500.0 L800.0 1485.0 L787.5 1465.0 L790.0 1435.0 L805.0 1430.0 L797.5 1400.0 L805.0 1382.5Z" fill="#f3c976"/>
<path d="M1109.5 1306.0 L1125.0 1310.0 L1140.0 1307.5 L1142.5 1320.0 L1145.0 1335.0 L1160.0 1350.0 L1167.5 1367.5 L1180.0 1380.0 L1197.5 1385.0 L1205.0 1400.0 L1220.0 1405.0 L1230.0 1420.0 L1227.5 1430.0 L1220.0 1440.0 L1217.5 1455.0 L1220.0 1465.0 L1210.0 1480.0 L1197.5 1495.0 L1180.0 1500.0 L1165.0 1505.0 L1160.0 1515.0 L1165.0 1525.0 L1167.5 1540.0 L1172.5 1545.0 L1160.0 1540.0 L1147.5 1540.0 L1142.5 1550.0 L1150.0 1565.0 L1145.0 1572.5 L1130.0 1557.5 L1115.0 1540.0 L1100.0 1530.0 L1090.0 1525.0 L1085.0 1515.0 L1080.0 1520.0 L1070.0 1522.5 L1055.0 1527.5 L1047.5 1520.0 L1040.0 1510.0 L1030.0 1505.0 L1020.0 1510.0 L1010.0 1512.5 L995.0 1510.0 L985.0 1515.0 L982.5 1512.5 L980.0 1497.5 L970.0 1495.0 L960.0 1495.0 L950.0 1487.5 L942.5 1475.0 L945.0 1462.5 L957.5 1460.0 L960.0 1445.0 L977.5 1446.0 L985.0 1445.0 L995.0 1440.0 L1005.0 1440.0 L1015.0 1435.0 L1025.0 1427.5 L1035.0 1422.5 L1035.0 1410.0 L1040.0 1402.5 L1052.5 1407.5 L1060.0 1415.0 L1065.0 1405.0 L1070.0 1392.5 L1065.0 1387.5 L1060.0 1375.0 L1057.5 1365.0 L1050.0 1360.0 L1045.0 1355.0 L1055.0 1347.5 L1065.0 1340.0 L1067.5 1330.0 L1080.0 1325.0 L1090.0 1322.5 L1100.0 1320.0Z" fill="#f3c976"/>
<path d="M1232.5 1422.5 L1231.0 1410.0 L1232.5 1390.0 L1235.0 1370.0 L1242.5 1365.0 L1265.0 1365.0 L1280.0 1360.0 L1285.0 1350.0 L1292.5 1345.0 L1305.0 1340.0 L1317.5 1332.5 L1330.0 1332.5 L1345.0 1325.0 L1352.5 1317.5 L1360.0 1315.0 L1370.0 1325.0 L1380.0 1335.0 L1385.0 1345.0 L1385.0 1365.0 L1390.0 1390.0 L1397.5 1389.0 L1405.0 1375.0 L1420.0 1372.5 L1427.5 1375.0 L1435.0 1385.0 L1440.0 1395.0 L1435.0 1405.0 L1430.0 1420.0 L1420.0 1435.0 L1407.5 1445.0 L1400.0 1452.5 L1395.0 1460.0 L1387.5 1470.0 L1380.0 1475.0 L1370.0 1475.0 L1357.5 1480.0 L1350.0 1487.5 L1340.0 1490.0 L1320.0 1487.5 L1310.0 1490.0 L1300.0 1485.0 L1297.5 1472.5 L1292.5 1457.5 L1282.5 1450.0 L1272.5 1445.0 L1265.0 1447.5 L1262.5 1460.0 L1255.0 1470.0 L1247.5 1472.5 L1235.0 1462.5 L1222.5 1467.5 L1217.5 1465.0 L1215.0 1452.5 L1222.5 1445.0 L1227.5 1435.0Z" fill="#f3c976"/>
<path d="M1222.5 1467.5 L1235.0 1462.5 L1247.5 1472.5 L1255.0 1470.0 L1262.5 1460.0 L1265.0 1447.5 L1272.5 1445.0 L1282.5 1450.0 L1292.5 1457.5 L1297.5 1472.5 L1300.0 1485.0 L1310.0 1490.0 L1320.0 1487.5 L1340.0 1490.0 L1350.0 1487.5 L1357.5 1480.0 L1370.0 1475.0 L1380.0 1475.0 L1395.0 1487.5 L1410.0 1500.0 L1390.0 1502.5 L1380.0 1505.0 L1370.0 1512.5 L1360.0 1515.0 L1350.0 1520.0 L1340.0 1525.0 L1335.0 1535.0 L1337.5 1545.0 L1345.0 1555.0 L1352.5 1562.5 L1355.0 1570.0 L1347.5 1572.5 L1345.0 1580.0 L1340.0 1590.0 L1332.5 1597.5 L1327.5 1605.0 L1330.0 1610.0 L1340.0 1615.0 L1355.0 1617.5 L1362.5 1622.5 L1365.0 1635.0 L1365.0 1650.0 L1367.5 1660.0 L1362.5 1667.5 L1355.0 1670.0 L1340.0 1670.0 L1320.0 1670.0 L1312.5 1670.0 L1305.0 1662.5 L1297.5 1660.0 L1272.5 1660.0 L1267.5 1652.5 L1260.0 1642.5 L1260.0 1625.0 L1260.0 1610.0 L1252.5 1600.0 L1240.0 1595.0 L1235.0 1600.0 L1230.0 1590.0 L1220.0 1585.0 L1210.0 1580.0 L1202.5 1572.5 L1197.5 1560.0 L1190.0 1552.5 L1180.0 1547.5 L1170.0 1540.0 L1162.5 1530.0 L1160.0 1520.0 L1157.5 1512.5 L1165.0 1502.5 L1185.0 1500.0 L1200.0 1495.0 L1215.0 1475.0Z" fill="#f4ecdc"/>
<path d="M1410.0 1500.0 L1405.0 1495.0 L1400.0 1487.5 L1410.0 1480.0 L1425.0 1472.5 L1430.0 1465.0 L1440.0 1455.0 L1442.5 1440.0 L1450.0 1435.0 L1460.0 1435.0 L1470.0 1437.5 L1472.5 1445.0 L1480.0 1437.5 L1487.5 1440.0 L1495.0 1450.0 L1497.5 1460.0 L1492.5 1475.0 L1490.0 1490.0 L1487.5 1505.0 L1485.0 1515.0 L1482.5 1530.0 L1475.0 1537.5 L1465.0 1540.0 L1455.0 1540.0 L1445.0 1542.5 L1435.0 1545.0 L1430.0 1555.0 L1427.5 1567.5 L1422.5 1575.0 L1415.0 1580.0 L1407.5 1582.5 L1405.0 1570.0 L1400.0 1560.0 L1395.0 1555.0 L1390.0 1550.0 L1380.0 1547.5 L1370.0 1545.0 L1360.0 1542.5 L1352.5 1545.0 L1347.5 1550.0 L1345.0 1555.0 L1337.5 1545.0 L1335.0 1535.0 L1340.0 1525.0 L1350.0 1520.0 L1360.0 1515.0 L1370.0 1512.5 L1380.0 1505.0 L1390.0 1502.5Z" fill="#f3c976"/>
<path d="M1130.0 1835.0 L1142.5 1832.5 L1150.0 1825.0 L1145.0 1815.0 L1145.0 1795.0 L1147.5 1782.5 L1160.0 1777.5 L1175.0 1772.5 L1180.0 1762.5 L1190.0 1755.0 L1200.0 1747.5 L1207.5 1750.0 L1215.0 1760.0 L1230.0 1770.0 L1240.0 1780.0 L1250.0 1790.0 L1257.5 1797.5 L1265.0 1800.0 L1270.0 1775.0 L1280.0 1762.5 L1290.0 1755.0 L1300.0 1757.5 L1310.0 1770.0 L1310.0 1780.0 L1315.0 1787.5 L1317.5 1800.0 L1325.0 1810.0 L1317.5 1822.5 L1322.5 1827.5 L1327.5 1837.5 L1332.5 1850.0 L1337.5 1860.0 L1340.0 1870.0 L1360.0 1867.5 L1380.0 1867.5 L1390.0 1872.5 L1391.0 1910.0 L1394.0 1945.0 L1380.0 1946.0 L1377.5 1960.0 L1355.0 1961.0 L1347.5 1960.0 L1350.0 1950.0 L1337.5 1932.5 L1325.0 1925.0 L1310.0 1932.5 L1297.5 1935.0 L1292.5 1950.0 L1275.0 1960.0 L1260.0 1967.5 L1250.0 1972.5 L1252.5 1995.0 L1260.0 2012.5 L1230.0 2024.0 L1200.0 2015.0 L1160.0 1995.0 L1135.0 1985.0 L1115.0 1985.0 L1117.5 1960.0 L1122.5 1940.0 L1125.0 1920.0 L1127.5 1900.0 L1127.5 1880.0 L1130.0 1860.0Z" fill="#f4ecdc"/>
<path d="M1252.5 1995.0 L1265.0 2015.0 L1282.5 2045.0 L1292.5 2068.0 L1292.5 2077.5 L1220.0 2102.5 L1222.5 2115.0 L1220.0 2136.0 L1305.0 2115.0 L1339.0 2140.0 L1345.0 2115.0 L1352.5 2097.5 L1360.0 2092.5 L1360.0 2080.0 L1350.0 2055.0 L1335.0 2025.0 L1330.0 2000.0 L1330.0 2000.0 L1322.5 1990.0 L1330.0 1985.0 L1370.0 1980.0 L1370.0 1970.0 L1355.0 1961.0 L1347.5 1960.0 L1350.0 1950.0 L1337.5 1932.5 L1325.0 1925.0 L1310.0 1932.5 L1297.5 1935.0 L1292.5 1950.0 L1275.0 1960.0 L1260.0 1967.5 L1250.0 1972.5Z" fill="#f4ecdc"/>
<path d="M952.5 1852.5 L975.0 1852.5 L982.5 1860.0 L982.5 1875.0 L1000.0 1877.5 L1025.0 1872.5 L1030.0 1860.0 L1027.5 1847.5 L1020.0 1835.0 L1017.5 1820.0 L1030.0 1815.0 L1037.5 1805.0 L1050.0 1807.5 L1060.0 1805.0 L1070.0 1812.5 L1082.5 1822.5 L1092.5 1830.0 L1105.0 1827.5 L1120.0 1827.5 L1130.0 1835.0 L1130.0 1860.0 L1127.5 1880.0 L1127.5 1900.0 L1125.0 1920.0 L1122.5 1940.0 L1117.5 1960.0 L1115.0 1985.0 L1107.5 1990.0 L1105.0 2000.0 L1107.5 2010.0 L1115.0 2017.5 L1125.0 2030.0 L1130.0 2050.0 L1125.0 2060.0 L1117.5 2085.0 L1100.0 2077.5 L1080.0 2067.5 L1070.0 2057.5 L1085.0 2045.0 L1077.5 2030.0 L1065.0 2022.5 L1052.5 2025.0 L1045.0 2035.0 L1040.0 2050.0 L1025.0 2062.5 L1015.0 2060.0 L1005.0 2030.0 L987.5 2035.0 L972.5 2035.0 L972.5 2047.5 L947.5 2047.5 L945.0 2042.5 L947.5 2030.0 L952.5 2022.5 L957.5 2010.0 L955.0 2000.0 L955.0 2000.0 L957.5 1980.0 L952.5 1960.0 L945.0 1945.0 L940.0 1920.0 L945.0 1900.0 L942.5 1880.0 L950.0 1865.0Z" fill="#eeb552"/>
<path d="M947.5 2047.5 L972.5 2047.5 L972.5 2035.0 L987.5 2035.0 L1005.0 2030.0 L1015.0 2060.0 L1025.0 2062.5 L1040.0 2050.0 L1045.0 2035.0 L1052.5 2025.0 L1065.0 2022.5 L1077.5 2030.0 L1085.0 2045.0 L1070.0 2057.5 L1080.0 2067.5 L1100.0 2077.5 L1117.5 2085.0 L1100.0 2085.0 L1097.5 2100.0 L1100.0 2120.0 L1122.5 2120.0 L1122.5 2150.0 L1124.0 2192.5 L1090.0 2197.5 L1082.5 2210.0 L1095.0 2235.0 L1097.5 2260.0 L1065.0 2250.0 L1057.5 2280.0 L1055.0 2287.5 L1045.0 2287.5 L1040.0 2275.0 L1030.0 2272.5 L1020.0 2257.5 L1010.0 2260.0 L1000.0 2245.0 L990.0 2232.5 L982.5 2242.5 L970.0 2247.5 L960.0 2252.5 L952.5 2270.0 L940.0 2272.5 L920.0 2270.0 L890.0 2270.0 L895.0 2260.0 L892.5 2245.0 L895.0 2235.0 L897.5 2220.0 L900.0 2210.0 L895.0 2200.0 L887.5 2192.5 L882.5 2185.0 L882.5 2175.0 L885.0 2165.0 L892.5 2160.0 L900.0 2155.0 L897.5 2145.0 L900.0 2135.0 L905.0 2127.5 L915.0 2122.5 L922.5 2117.5 L930.0 2110.0 L930.0 2100.0 L927.5 2090.0 L925.0 2080.0 L927.5 2070.0 L935.0 2060.0 L935.0 2050.0 L945.0 2042.5Z" fill="#eeb552"/>
<path d="M1575.0 1882.5 L1587.5 1872.5 L1595.0 1865.0 L1610.0 1860.0 L1620.0 1855.0 L1630.0 1845.0 L1647.5 1837.5 L1665.0 1840.0 L1680.0 1842.5 L1685.0 1830.0 L1690.0 1817.5 L1700.0 1810.0 L1715.0 1805.0 L1730.0 1810.0 L1745.0 1812.5 L1755.0 1807.5 L1765.0 1812.5 L1772.5 1820.0 L1775.0 1830.0 L1765.0 1835.0 L1755.0 1840.0 L1760.0 1845.0 L1752.5 1855.0 L1750.0 1865.0 L1760.0 1870.0 L1767.5 1872.5 L1775.0 1875.0 L1785.0 1870.0 L1790.0 1865.0 L1800.0 1870.0 L1810.0 1875.0 L1820.0 1880.0 L1822.5 1887.5 L1827.5 1895.0 L1835.0 1900.0 L1840.0 1905.0 L1847.5 1920.0 L1857.5 1930.0 L1865.0 1935.0 L1880.0 1937.5 L1887.5 1935.0 L1890.0 1940.0 L1900.0 1950.0 L1905.0 1960.0 L1912.5 1972.5 L1922.5 1977.5 L1932.5 1987.5 L1945.0 1990.0 L1950.0 1982.5 L1955.0 1987.5 L1965.0 1990.0 L1972.5 1997.5 L1977.5 1990.0 L1982.5 1987.5 L1987.5 1995.0 L1985.0 2000.0 L1977.5 2005.0 L1970.0 2010.0 L1960.0 2015.0 L1955.0 2025.0 L1945.0 2017.5 L1935.0 2012.5 L1920.0 2010.0 L1915.0 2020.0 L1900.0 2025.0 L1885.0 2017.5 L1870.0 2010.0 L1855.0 2020.0 L1842.5 2030.0 L1840.0 2050.0 L1825.0 2045.0 L1810.0 2037.5 L1797.5 2030.0 L1795.0 2010.0 L1787.5 2000.0 L1775.0 1980.0 L1762.5 1962.5 L1755.0 1970.0 L1755.0 1987.5 L1742.5 1990.0 L1730.0 1992.5 L1725.0 1995.0 L1727.5 2012.5 L1729.0 2050.0 L1700.0 2052.5 L1687.5 2055.0 L1677.5 2050.0 L1670.0 2007.5 L1647.5 2002.5 L1630.0 1995.0 L1625.0 1980.0 L1622.5 1970.0 L1600.0 1950.0 L1572.5 1920.0 L1587.5 1905.0 L1580.0 1895.0Z" fill="#f3c976"/>
<path d="M1067.5 2295.0 L1082.5 2296.0 L1097.5 2322.5 L1105.0 2345.0 L1130.0 2345.0 L1140.0 2334.0 L1146.0 2370.0 L1107.5 2371.0 L1115.0 2385.0 L1135.0 2384.0 L1137.5 2377.5 L1150.0 2377.5 L1154.0 2391.0 L1225.0 2374.0 L1210.0 2310.0 L1247.5 2300.0 L1262.5 2365.0 L1248.5 2369.0 L1250.0 2376.0 L1240.0 2380.0 L1242.5 2397.5 L1239.0 2402.5 L1245.0 2435.0 L1152.5 2457.5 L1150.0 2467.5 L1145.0 2465.0 L1142.5 2459.0 L1120.0 2465.0 L1125.0 2489.0 L1140.0 2485.0 L1141.0 2500.0 L1162.5 2501.0 L1209.0 2490.0 L1215.0 2517.5 L1169.0 2529.0 L1145.0 2525.0 L1152.5 2555.0 L1145.0 2560.0 L1137.5 2561.0 L1130.0 2550.0 L1125.0 2540.0 L1117.5 2527.5 L1115.0 2507.5 L1080.0 2507.5 L1079.0 2486.0 L1049.0 2494.0 L1047.5 2472.5 L1040.0 2471.0 L1035.0 2452.5 L1041.0 2450.0 L1041.0 2444.0 L1059.0 2437.5 L1072.5 2457.5 L1085.0 2453.5 L1084.0 2448.5 L1097.5 2445.0 L1095.0 2432.5 L1089.0 2427.5 L1080.0 2430.0 L1080.0 2420.0 L1071.0 2417.5 L1067.5 2400.0 L1066.0 2377.5 L1064.0 2350.0 L1065.0 2332.5 L1067.5 2310.0Z" fill="#f3c976"/>
<path d="M1322.5 2224.0 L1365.0 2164.0 L1402.5 2190.0 L1340.0 2266.0Z" fill="#f3c976"/>
<path d="M1297.5 2274.0 L1340.0 2266.0 L1372.5 2303.5 L1357.5 2341.5 L1316.0 2352.5Z" fill="#f3c976"/>
<path d="M1059.0 2437.5 L1089.0 2427.5 L1095.0 2432.5 L1097.5 2445.0 L1084.0 2448.5 L1085.0 2453.5 L1072.5 2457.5Z" fill="#f5e1b0"/>
<path d="M1120.0 2465.0 L1142.5 2459.0 L1145.0 2465.0 L1141.0 2500.0 L1140.0 2485.0 L1125.0 2489.0Z" fill="#f5e1b0"/>
<path d="M1145.0 2465.0 L1150.0 2467.5 L1152.5 2457.5 L1245.0 2435.0 L1255.0 2476.5 L1209.0 2490.0 L1162.5 2501.0 L1141.0 2500.0Z" fill="#f5e1b0"/>
<path d="M85.0 582.5 L97.5 566.0 L115.0 552.5 L116.0 542.5 L121.0 540.0 L119.0 517.5 L125.0 516.0 L135.0 530.0 L147.5 547.5 L151.0 552.5 L159.0 545.0 L162.5 552.5 L169.0 565.0 L177.5 567.5 L190.0 562.5 L192.5 552.5 L190.0 545.0 L191.0 532.5 L185.0 525.0 L175.0 524.0 L165.0 520.0 L157.5 512.5 L150.0 502.5 L142.5 492.5 L135.0 479.0 L140.0 476.0 L147.5 480.0 L154.0 485.0 L160.0 472.5 L167.5 469.0 L190.0 471.0 L212.5 470.0 L220.0 469.0 L227.5 477.5 L232.5 487.5 L230.0 495.0 L236.0 505.0 L245.0 511.0 L250.0 507.5 L262.5 511.0 L275.0 515.0 L282.5 512.5 L285.0 502.5 L292.5 500.0 L302.5 500.0 L307.5 506.0 L305.0 497.5 L304.0 485.0 L300.0 472.5 L292.5 470.0 L291.0 465.0 L300.0 464.0 L310.0 464.0 L320.0 460.0 L327.5 461.0 L327.5 475.0 L337.5 486.0 L350.0 500.0 L355.0 502.5 L365.0 500.0 L375.0 495.0 L382.5 490.0 L390.0 491.0 L397.5 494.0 L405.0 504.0 L402.5 525.0 L410.0 530.0 L422.5 541.0 L425.0 555.0 L427.5 565.0 L420.0 572.5 L417.5 590.0 L422.5 610.0 L415.0 615.0 L402.5 615.0 L395.0 615.0 L390.0 622.5 L385.0 624.0 L370.0 624.0 L362.5 617.5 L360.0 602.5 L357.5 592.5 L345.0 587.5 L335.0 589.0 L327.5 597.5 L322.5 610.0 L329.0 625.0 L329.0 645.0 L325.0 655.0 L317.5 662.5 L302.5 670.0 L297.5 685.0 L295.0 692.5 L285.0 700.0 L275.0 697.5 L262.5 692.5 L260.0 682.5 L270.0 680.0 L277.5 682.5 L275.0 675.0 L260.0 672.5 L250.0 667.5 L255.0 657.5 L252.5 645.0 L242.5 640.0 L237.5 642.5 L240.0 650.0 L235.0 655.0 L227.5 650.0 L230.0 640.0 L220.0 635.0 L210.0 625.0 L205.0 615.0 L195.0 617.5 L190.0 610.0 L182.5 597.5 L175.0 600.0 L167.5 605.0 L160.0 602.5 L147.5 597.5 L137.5 595.0 L130.0 590.0 L122.5 587.5 L117.5 600.0 L110.0 604.0 L100.0 600.0 L90.0 590.0Z" class="b"/>
<path d="M737.5 494.0 L745.0 505.0 L752.5 515.0 L742.5 522.5 L735.0 527.5 L730.0 540.0 L720.0 547.5 L710.0 552.5 L712.5 556.0 L725.0 557.5 L737.5 562.5 L750.0 565.0 L757.5 572.5 L760.0 580.0 L770.0 580.0 L777.5 584.0 L775.0 589.0 L760.0 590.0 L750.0 590.0 L742.5 595.0 L732.5 605.0 L710.0 610.0 L690.0 615.0 L680.0 620.0 L670.0 630.0 L660.0 630.0 L654.0 632.5 L660.0 636.0 L667.5 637.5 L665.0 647.5 L660.0 657.5 L657.5 667.5 L655.0 680.0 L642.5 685.0 L632.5 695.0 L625.0 707.5 L622.5 720.0 L632.5 730.0 L640.0 737.5 L645.0 750.0 L640.0 752.5 L632.5 747.5 L620.0 742.5 L610.0 745.0 L595.0 747.5 L585.0 745.0 L577.5 740.0 L570.0 732.5 L560.0 725.0 L555.0 725.0 L552.5 700.0 L547.5 680.0 L550.0 669.0 L557.5 667.5 L555.0 662.5 L560.0 660.0 L562.5 655.0 L555.0 647.5 L537.5 635.0 L536.5 627.5 L537.5 610.0 L540.0 595.0 L542.5 585.0 L540.0 572.5 L547.5 567.5 L550.0 550.0 L557.5 545.0 L555.0 540.0 L557.5 530.0 L560.0 522.5 L567.5 520.0 L580.0 522.5 L590.0 527.5 L600.0 530.0 L612.5 530.0 L617.5 522.5 L627.5 515.0 L640.0 510.0 L642.5 504.0 L657.5 514.0 L670.0 520.0 L682.5 527.5 L690.0 530.0 L695.0 520.0 L707.5 509.0 L720.0 497.5Z" class="b"/>
<path d="M375.0 840.0 L385.0 832.5 L400.0 820.0 L402.5 807.5 L410.0 804.0 L412.5 792.5 L425.0 782.5 L437.5 775.0 L447.5 772.5 L457.5 780.0 L467.5 785.0 L475.0 792.5 L482.5 782.5 L490.0 777.5 L500.0 782.5 L510.0 775.0 L525.0 762.5 L540.0 757.5 L555.0 750.0 L555.0 725.0 L560.0 725.0 L570.0 732.5 L577.5 740.0 L585.0 745.0 L595.0 747.5 L610.0 745.0 L620.0 742.5 L632.5 747.5 L640.0 752.5 L645.0 752.5 L635.0 755.0 L627.5 760.0 L622.5 770.0 L620.0 780.0 L612.5 790.0 L610.0 802.5 L617.5 810.0 L620.0 819.0 L610.0 822.5 L615.0 830.0 L625.0 837.5 L637.5 842.5 L650.0 847.5 L665.0 849.0 L670.0 852.5 L670.0 862.5 L675.0 870.0 L680.0 877.5 L690.0 885.0 L697.5 892.5 L705.0 902.5 L710.0 912.5 L722.5 917.5 L732.5 912.5 L740.0 907.5 L747.5 910.0 L752.5 922.5 L760.0 925.0 L760.0 945.0 L755.0 952.5 L750.0 965.0 L745.0 977.5 L737.5 982.5 L732.5 977.5 L725.0 970.0 L717.5 962.5 L710.0 955.0 L700.0 955.0 L692.5 945.0 L685.0 935.0 L677.5 922.5 L672.5 915.0 L662.5 910.0 L655.0 912.5 L645.0 920.0 L635.0 925.0 L625.0 930.0 L617.5 930.0 L610.0 922.5 L600.0 915.0 L592.5 912.5 L585.0 915.0 L580.0 920.0 L575.0 917.5 L570.0 910.0 L560.0 906.0 L550.0 905.0 L540.0 903.5 L532.5 901.0 L525.0 902.5 L520.0 910.0 L512.5 920.0 L507.5 927.5 L500.0 922.5 L492.5 919.0 L485.0 917.5 L475.0 917.5 L467.5 922.5 L465.0 930.0 L460.0 940.0 L457.5 947.5 L450.0 950.0 L447.5 960.0 L445.0 967.5 L440.0 975.0 L435.0 980.0 L430.0 977.5 L425.0 970.0 L420.0 962.5 L412.5 957.5 L405.0 952.5 L400.0 947.5 L397.5 937.5 L400.0 930.0 L407.5 927.5 L405.0 922.5 L397.5 917.5 L392.5 910.0 L390.0 902.5 L390.0 890.0 L387.5 880.0 L385.0 870.0 L380.0 865.0 L372.5 857.5 L370.0 847.5Z" class="b"/>
<path d="M700.0 955.0 L710.0 967.5 L717.5 972.5 L725.0 977.5 L732.5 985.0 L735.0 992.5 L732.5 1000.0 L740.0 1004.0 L750.0 1000.0 L762.5 1000.0 L775.0 997.5 L785.0 992.5 L790.0 982.5 L790.0 970.0 L797.5 965.0 L805.0 967.5 L815.0 977.5 L822.5 967.5 L835.0 955.0 L827.5 947.5 L820.0 940.0 L810.0 932.5 L802.5 935.0 L795.0 942.5 L790.0 950.0 L785.0 952.5 L775.0 950.0 L762.5 950.0 L755.0 952.5 L750.0 965.0 L745.0 977.5 L737.5 982.5 L732.5 977.5 L725.0 970.0 L717.5 962.5 L710.0 955.0Z" class="b"/>
<path d="M760.0 925.0 L762.5 912.5 L770.0 907.5 L777.5 910.0 L782.5 905.0 L792.5 897.5 L802.5 890.0 L815.0 875.0 L820.0 867.5 L827.5 865.0 L830.0 872.5 L835.0 890.0 L840.0 897.5 L845.0 907.5 L850.0 915.0 L862.5 922.5 L872.5 930.0 L880.0 927.5 L887.5 920.0 L892.5 930.0 L897.5 945.0 L900.0 962.5 L920.0 964.0 L945.0 966.0 L937.5 972.5 L930.0 977.5 L925.0 985.0 L920.0 990.0 L930.0 989.0 L940.0 995.0 L950.0 1000.0 L962.5 1005.0 L975.0 1010.0 L985.0 1017.5 L997.5 1022.5 L1010.0 1030.0 L1015.0 1040.0 L1017.5 1055.0 L1020.0 1070.0 L1017.5 1080.0 L1022.5 1092.5 L1017.5 1095.0 L1012.5 1090.0 L1002.5 1095.0 L1000.0 1110.0 L997.5 1130.0 L982.5 1130.0 L967.5 1127.5 L950.0 1126.0 L935.0 1127.5 L920.0 1130.0 L910.0 1126.0 L905.0 1117.5 L900.0 1115.0 L895.0 1120.0 L890.0 1135.0 L887.5 1150.0 L887.5 1170.0 L890.0 1190.0 L890.0 1212.5 L880.0 1212.5 L865.0 1212.5 L855.0 1210.0 L847.5 1207.5 L840.0 1212.5 L842.5 1230.0 L837.5 1230.0 L830.0 1220.0 L827.5 1207.5 L822.5 1202.5 L812.5 1200.0 L802.5 1200.0 L795.0 1202.5 L787.5 1200.0 L780.0 1202.5 L777.5 1195.0 L785.0 1190.0 L790.0 1182.5 L787.5 1172.5 L780.0 1165.0 L772.5 1160.0 L760.0 1152.5 L752.5 1145.0 L752.5 1135.0 L760.0 1130.0 L770.0 1130.0 L780.0 1127.5 L782.5 1117.5 L785.0 1107.5 L790.0 1097.5 L800.0 1092.5 L805.0 1085.0 L800.0 1075.0 L792.5 1067.5 L790.0 1057.5 L787.5 1052.5 L780.0 1050.0 L775.0 1045.0 L770.0 1030.0 L767.5 1020.0 L770.0 1012.5 L775.0 1005.0 L772.5 1002.5 L785.0 992.5 L790.0 982.5 L790.0 970.0 L797.5 965.0 L805.0 967.5 L815.0 977.5 L822.5 967.5 L835.0 955.0 L827.5 947.5 L820.0 940.0 L810.0 932.5 L802.5 935.0 L795.0 942.5 L790.0 950.0 L785.0 952.5 L775.0 950.0 L762.5 950.0 L760.0 945.0Z" class="b"/>
<path d="M495.0 1117.5 L510.0 1107.5 L525.0 1097.5 L540.0 1087.5 L555.0 1080.0 L565.0 1075.0 L575.0 1075.0 L585.0 1077.5 L597.5 1082.5 L610.0 1080.0 L615.0 1072.5 L612.5 1062.5 L612.5 1052.5 L617.5 1040.0 L622.5 1027.5 L630.0 1017.5 L637.5 1010.0 L642.5 1012.5 L647.5 1022.5 L657.5 1022.5 L667.5 1020.0 L675.0 1015.0 L680.0 1005.0 L687.5 987.5 L692.5 975.0 L700.0 962.5 L710.0 967.5 L717.5 972.5 L725.0 977.5 L732.5 985.0 L735.0 992.5 L732.5 1000.0 L740.0 1004.0 L750.0 1000.0 L762.5 1000.0 L772.5 1002.5 L775.0 1005.0 L770.0 1012.5 L767.5 1020.0 L770.0 1030.0 L775.0 1045.0 L780.0 1050.0 L787.5 1052.5 L790.0 1057.5 L792.5 1067.5 L800.0 1075.0 L805.0 1085.0 L800.0 1092.5 L790.0 1097.5 L785.0 1107.5 L782.5 1117.5 L780.0 1127.5 L770.0 1130.0 L760.0 1130.0 L752.5 1135.0 L752.5 1145.0 L760.0 1152.5 L772.5 1160.0 L780.0 1165.0 L787.5 1172.5 L790.0 1182.5 L785.0 1190.0 L777.5 1195.0 L780.0 1202.5 L778.0 1197.5 L756.0 1190.5 L747.5 1192.0 L744.5 1229.5 L728.0 1236.5 L719.5 1228.0 L711.5 1236.5 L692.0 1236.5 L672.5 1233.5 L664.0 1242.0 L635.0 1253.0 L633.5 1264.0 L600.0 1278.0 L585.0 1280.0 L582.5 1265.0 L582.5 1248.0 L580.0 1240.0 L575.0 1225.0 L565.0 1212.5 L555.0 1205.0 L545.0 1200.0 L532.5 1192.5 L525.0 1180.0 L522.5 1167.5 L512.5 1157.5 L505.0 1145.0 L502.5 1130.0Z" class="b"/>
<path d="M1203.3 805.0 L1215.8 798.0 L1222.8 803.5 L1224.2 814.8 L1234.0 824.5 L1243.7 831.5 L1240.9 842.5 L1239.5 856.5 L1246.5 863.5 L1261.8 866.3 L1281.2 873.2 L1298.0 877.5 L1317.5 898.3 L1314.5 904.0 L1295.0 895.5 L1284.0 901.0 L1281.2 912.0 L1278.5 931.5 L1259.0 926.0 L1248.0 937.2 L1236.8 952.5 L1220.0 956.8 L1209.0 958.0 L1206.0 970.5 L1211.5 987.5 L1215.8 998.5 L1203.3 1002.5 L1200.5 1009.5 L1195.0 1008.2 L1189.5 998.5 L1178.3 993.0 L1161.5 984.5 L1156.0 990.0 L1151.8 1004.0 L1142.0 1012.5 L1132.4 1018.0 L1119.8 1009.5 L1103.0 1001.2 L1089.2 995.5 L1080.9 998.5 L1075.3 994.3 L1082.3 987.4 L1078.0 976.2 L1067.0 951.0 L1060.0 934.5 L1050.3 934.5 L1039.2 931.5 L1030.8 929.0 L1026.5 934.5 L1026.5 944.2 L1022.5 944.2 L1019.5 934.5 L1022.5 923.4 L1030.8 916.4 L1036.3 909.5 L1042.0 898.3 L1044.7 892.8 L1053.0 888.5 L1064.2 883.0 L1071.2 874.5 L1078.0 871.9 L1089.2 870.5 L1100.4 871.9 L1106.0 873.2 L1111.5 880.2 L1117.0 887.0 L1122.5 894.0 L1126.8 891.4 L1131.0 883.0 L1144.9 877.5 L1156.0 871.9 L1160.2 864.9 L1160.2 852.4 L1158.8 841.2 L1163.0 834.3 L1170.0 831.5 L1172.8 826.0 L1178.3 820.5 L1183.8 817.5 L1192.2 816.2 L1199.0 812.0Z" class="b"/>
<path d="M1132.4 1018.0 L1142.0 1012.5 L1151.8 1004.0 L1156.0 990.0 L1161.5 984.5 L1178.3 993.0 L1189.5 998.5 L1195.0 1008.2 L1200.5 1009.5 L1203.3 1002.5 L1215.8 998.5 L1211.5 987.5 L1206.0 970.5 L1209.0 958.0 L1220.0 956.8 L1236.8 952.5 L1248.0 937.2 L1259.0 926.0 L1278.5 931.5 L1281.2 912.0 L1284.0 901.0 L1295.0 895.5 L1314.5 904.0 L1317.5 898.3 L1298.0 877.5 L1312.5 878.5 L1330.0 885.0 L1345.0 895.0 L1346.5 905.0 L1340.0 920.0 L1330.0 932.5 L1327.5 947.5 L1327.5 965.0 L1324.0 980.0 L1320.0 1000.0 L1325.0 1020.0 L1330.0 1040.0 L1333.5 1060.0 L1330.0 1077.5 L1334.0 1090.0 L1345.0 1102.5 L1350.0 1117.5 L1350.0 1152.5 L1348.8 1151.6 L1330.6 1152.6 L1323.6 1149.6 L1319.6 1139.5 L1320.6 1131.5 L1314.5 1125.4 L1309.5 1115.3 L1304.4 1115.3 L1300.4 1117.3 L1296.4 1111.3 L1292.3 1109.3 L1284.3 1107.3 L1282.3 1101.2 L1278.2 1103.2 L1276.2 1109.3 L1270.2 1115.3 L1266.1 1119.4 L1260.1 1120.4 L1252.0 1119.4 L1250.0 1115.3 L1245.0 1117.3 L1245.0 1127.4 L1239.9 1130.4 L1229.8 1125.4 L1221.8 1121.4 L1209.7 1117.3 L1205.6 1109.3 L1191.5 1101.2 L1177.4 1091.1 L1177.4 1081.0 L1173.4 1074.0 L1173.4 1069.0 L1177.4 1062.9 L1173.4 1058.9 L1161.3 1057.9 L1147.2 1056.9 L1133.1 1053.8 L1127.0 1048.8 L1128.0 1034.7Z" class="b"/>
<path d="M1015.1 1027.6 L1018.1 1025.6 L1030.2 1022.6 L1040.3 1024.6 L1052.4 1022.6 L1057.5 1015.5 L1066.5 1006.5 L1074.6 995.4 L1084.7 997.4 L1092.7 996.4 L1104.8 1002.4 L1116.9 1009.5 L1132.1 1018.5 L1128.0 1034.7 L1127.0 1048.8 L1133.1 1053.8 L1147.2 1056.9 L1161.3 1057.9 L1173.4 1058.9 L1177.4 1062.9 L1173.4 1069.0 L1173.4 1074.0 L1177.4 1081.0 L1177.4 1091.1 L1176.4 1111.3 L1176.4 1127.4 L1179.4 1132.5 L1173.4 1137.5 L1163.3 1143.5 L1153.2 1149.6 L1141.1 1157.7 L1133.1 1160.7 L1130.0 1163.7 L1123.0 1167.7 L1114.9 1173.8 L1106.9 1181.9 L1106.9 1191.9 L1102.8 1200.0 L1100.8 1210.1 L1103.8 1220.2 L1102.8 1226.2 L1096.8 1230.2 L1088.7 1232.3 L1076.6 1234.3 L1074.6 1236.3 L1068.5 1235.3 L1058.5 1234.3 L1050.4 1235.3 L1048.4 1242.3 L1052.4 1250.4 L1053.4 1255.4 L1048.4 1252.4 L1040.3 1248.4 L1028.2 1244.4 L1018.1 1240.3 L1008.1 1238.3 L1000.0 1240.3 L989.5 1244.5 L962.0 1236.5 L925.5 1231.0 L911.5 1228.0 L891.0 1212.5 L890.0 1212.5 L890.0 1190.0 L887.5 1170.0 L887.5 1150.0 L890.0 1135.0 L895.0 1120.0 L900.0 1115.0 L905.0 1117.5 L910.0 1126.0 L920.0 1130.0 L935.0 1127.5 L950.0 1126.0 L967.5 1127.5 L982.5 1130.0 L997.5 1130.0 L1000.0 1131.5 L1002.0 1123.4 L1007.1 1091.1 L1010.1 1089.1 L1014.1 1090.1 L1018.1 1091.1 L1024.2 1094.2 L1020.2 1087.1 L1016.1 1079.0 L1016.1 1069.0 L1020.2 1054.8 L1019.2 1044.8 L1016.1 1030.6Z" class="b"/>
<path d="M1064.0 700.7 L1062.5 693.8 L1066.8 685.4 L1074.5 679.9 L1068.0 672.0 L1076.5 669.4 L1089.0 655.5 L1104.3 645.8 L1105.8 656.0 L1111.3 654.0 L1122.5 663.9 L1142.0 670.0 L1146.0 675.5 L1160.0 672.0 L1164.0 688.0 L1169.8 684.0 L1181.0 685.5 L1197.5 679.9 L1206.0 686.8 L1222.5 685.4 L1226.8 681.2 L1232.4 687.5 L1240.8 684.5 L1254.5 703.5 L1245.0 725.8 L1249.0 730.0 L1247.5 742.5 L1245.0 759.0 L1251.8 767.5 L1260.0 771.5 L1277.0 773.0 L1265.8 784.0 L1272.8 792.5 L1290.8 812.0 L1310.0 800.0 L1325.0 810.0 L1350.0 825.0 L1372.5 822.5 L1372.5 807.5 L1380.0 795.0 L1395.0 794.0 L1400.0 787.5 L1422.5 786.0 L1427.5 809.0 L1431.0 815.0 L1436.0 867.5 L1445.0 862.5 L1480.0 865.0 L1475.0 875.0 L1457.5 885.0 L1445.0 897.5 L1439.0 915.0 L1440.0 927.5 L1452.5 937.5 L1462.5 927.5 L1481.0 932.5 L1467.5 975.0 L1452.5 980.0 L1444.0 990.0 L1442.5 1002.5 L1455.0 1022.5 L1451.5 1030.0 L1450.0 1055.0 L1460.0 1060.0 L1450.0 1077.5 L1442.5 1087.5 L1437.5 1112.5 L1427.5 1117.5 L1402.5 1130.0 L1420.0 1162.5 L1437.5 1156.0 L1439.0 1167.5 L1437.5 1180.0 L1441.5 1190.0 L1435.0 1197.5 L1425.0 1205.0 L1435.0 1207.5 L1439.0 1225.0 L1452.5 1210.0 L1467.5 1197.5 L1470.0 1236.0 L1495.0 1215.0 L1507.5 1207.5 L1522.5 1265.0 L1547.5 1261.0 L1552.5 1280.0 L1546.0 1289.0 L1555.0 1322.5 L1570.0 1320.0 L1572.5 1327.5 L1580.0 1326.0 L1600.0 1320.0 L1600.0 1312.5 L1597.5 1305.0 L1600.0 1295.0 L1600.0 1280.0 L1615.0 1272.5 L1647.5 1265.0 L1665.0 1352.5 L1637.5 1359.0 L1655.0 1447.5 L1615.0 1454.0 L1612.5 1465.0 L1622.5 1467.5 L1631.0 1495.0 L1640.0 1495.0 L1639.0 1480.0 L1672.5 1474.0 L1684.0 1518.5 L1670.0 1521.0 L1667.5 1582.5 L1650.0 1587.5 L1656.0 1597.5 L1692.5 1587.5 L1697.5 1615.0 L1725.0 1610.0 L1734.0 1605.0 L1737.5 1616.0 L1752.5 1657.5 L1805.0 1645.0 L1807.5 1639.0 L1822.5 1636.0 L1830.0 1662.5 L1837.5 1685.0 L1850.0 1680.0 L1860.0 1672.5 L1870.0 1677.5 L1877.5 1686.5 L1867.5 1687.5 L1854.0 1697.5 L1864.0 1715.0 L1872.5 1727.5 L1875.0 1745.0 L1875.0 1775.0 L1877.5 1790.0 L1871.0 1797.5 L1867.5 1820.0 L1870.0 1840.0 L1877.5 1855.0 L1876.0 1867.5 L1870.0 1872.5 L1862.5 1875.0 L1865.0 1892.5 L1852.5 1895.0 L1835.0 1900.0 L1827.5 1895.0 L1822.5 1887.5 L1820.0 1880.0 L1810.0 1875.0 L1800.0 1870.0 L1790.0 1865.0 L1785.0 1870.0 L1775.0 1875.0 L1767.5 1872.5 L1760.0 1870.0 L1750.0 1865.0 L1752.5 1855.0 L1760.0 1845.0 L1755.0 1840.0 L1765.0 1835.0 L1775.0 1830.0 L1772.5 1820.0 L1767.5 1812.5 L1760.0 1807.5 L1747.5 1807.5 L1740.0 1810.0 L1727.5 1807.5 L1715.0 1797.5 L1725.0 1790.0 L1725.0 1770.0 L1722.5 1755.0 L1715.0 1745.0 L1710.0 1735.0 L1712.5 1715.0 L1707.5 1705.0 L1700.0 1697.5 L1692.5 1695.0 L1685.0 1690.0 L1680.0 1685.0 L1670.0 1692.5 L1667.5 1705.0 L1657.5 1710.0 L1650.0 1715.0 L1647.5 1725.0 L1640.0 1722.5 L1630.0 1717.5 L1622.5 1715.0 L1620.0 1700.0 L1617.5 1685.0 L1612.5 1667.5 L1610.0 1640.0 L1602.5 1620.0 L1602.5 1600.0 L1592.5 1592.5 L1582.5 1585.0 L1572.5 1590.0 L1565.0 1602.5 L1550.0 1610.0 L1535.0 1605.0 L1522.5 1595.0 L1512.5 1582.5 L1510.0 1570.0 L1515.0 1560.0 L1535.0 1562.5 L1547.5 1562.5 L1550.0 1550.0 L1547.5 1535.0 L1555.0 1530.0 L1555.0 1515.0 L1547.5 1510.0 L1542.5 1495.0 L1537.5 1480.0 L1530.0 1475.0 L1517.5 1474.0 L1507.5 1470.0 L1502.5 1460.0 L1500.0 1447.5 L1490.0 1440.0 L1485.0 1435.0 L1480.0 1430.0 L1475.0 1422.5 L1480.0 1415.0 L1487.5 1415.0 L1495.0 1410.0 L1500.0 1400.0 L1500.0 1387.5 L1507.5 1380.0 L1520.0 1365.0 L1527.5 1357.5 L1535.0 1350.0 L1527.5 1345.0 L1520.0 1350.0 L1510.0 1357.5 L1500.0 1365.0 L1490.0 1367.5 L1480.0 1372.5 L1470.0 1375.0 L1460.0 1382.5 L1450.0 1390.0 L1445.0 1395.0 L1440.0 1395.0 L1435.0 1385.0 L1427.5 1375.0 L1420.0 1360.0 L1412.5 1347.5 L1430.0 1335.0 L1445.0 1322.5 L1460.0 1310.0 L1475.0 1300.0 L1487.5 1295.0 L1500.0 1287.5 L1515.0 1277.5 L1522.5 1270.0 L1512.5 1267.5 L1500.0 1275.0 L1490.0 1282.5 L1480.0 1290.0 L1465.0 1295.0 L1450.0 1296.0 L1432.5 1295.0 L1427.5 1287.5 L1420.0 1277.5 L1410.0 1265.0 L1400.0 1255.0 L1390.0 1247.5 L1385.0 1237.5 L1387.5 1227.5 L1397.5 1215.0 L1405.0 1205.0 L1402.5 1192.5 L1380.0 1175.0 L1350.0 1152.5 L1350.0 1117.5 L1345.0 1102.5 L1334.0 1090.0 L1330.0 1077.5 L1333.5 1060.0 L1330.0 1040.0 L1325.0 1020.0 L1320.0 1000.0 L1324.0 980.0 L1327.5 965.0 L1327.5 947.5 L1330.0 932.5 L1340.0 920.0 L1346.5 905.0 L1345.0 895.0 L1330.0 885.0 L1312.5 878.5 L1298.0 877.5 L1281.2 873.2 L1261.8 866.3 L1246.5 863.5 L1239.5 856.5 L1240.9 842.5 L1243.7 831.5 L1234.0 824.5 L1224.2 814.8 L1222.8 803.5 L1215.8 798.0 L1206.0 801.0 L1200.4 805.0 L1185.0 799.5 L1175.3 787.0 L1172.5 767.5 L1160.0 763.3 L1139.0 767.5 L1128.0 763.3 L1119.5 759.0 L1115.5 763.3 L1112.7 774.5 L1108.5 787.0 L1100.0 794.0 L1089.0 791.0 L1083.5 780.0 L1086.2 767.5 L1091.8 757.8 L1103.0 755.0 L1111.3 749.5 L1116.0 739.5 L1118.2 731.3 L1121.0 728.5 L1126.0 732.5 L1131.0 735.5 L1135.5 731.5 L1136.5 721.5 L1128.0 714.5 L1114.0 709.0 L1101.5 703.5 L1090.5 697.2 L1073.8 695.9Z" class="b"/>
<path d="M1567.5 1680.0 L1570.0 1675.0 L1582.5 1672.5 L1587.5 1665.0 L1600.0 1667.5 L1612.5 1667.5 L1617.5 1685.0 L1620.0 1700.0 L1617.5 1715.0 L1610.0 1725.0 L1605.0 1712.5 L1595.0 1705.0 L1582.5 1702.5 L1570.0 1702.5 L1567.5 1692.5Z" class="b"/>
<path d="M585.0 1280.0 L600.0 1278.0 L633.5 1264.0 L635.0 1253.0 L664.0 1242.0 L672.5 1233.5 L692.0 1236.5 L711.5 1236.5 L719.5 1228.0 L728.0 1236.5 L744.5 1229.5 L747.5 1192.0 L756.0 1190.5 L778.0 1197.5 L778.0 1205.5 L800.0 1207.5 L820.0 1204.0 L835.0 1207.5 L837.5 1222.5 L842.5 1230.0 L847.5 1220.0 L860.0 1207.5 L891.0 1212.5 L911.5 1228.0 L914.5 1253.0 L911.5 1275.5 L903.5 1283.5 L892.0 1289.0 L886.5 1306.0 L872.5 1308.5 L854.5 1317.0 L867.0 1329.5 L864.5 1335.0 L872.5 1342.0 L882.5 1339.5 L867.0 1347.5 L850.5 1359.0 L840.0 1372.5 L805.0 1382.5 L797.5 1400.0 L805.0 1430.0 L790.0 1435.0 L787.5 1465.0 L800.0 1485.0 L817.5 1500.0 L820.0 1527.5 L835.0 1540.0 L840.0 1552.5 L830.0 1552.5 L810.0 1540.0 L795.0 1532.5 L785.0 1520.0 L767.5 1507.5 L750.0 1492.5 L732.5 1475.0 L720.0 1465.0 L700.0 1460.0 L705.0 1455.0 L705.0 1435.0 L702.5 1415.0 L692.5 1400.0 L680.0 1385.0 L680.0 1372.5 L670.0 1355.0 L655.0 1345.0 L640.0 1340.0 L622.5 1335.0 L610.0 1325.0 L596.0 1320.0 L597.5 1305.0 L590.0 1287.5Z" class="b"/>
<path d="M840.0 1372.5 L860.0 1387.5 L877.5 1400.0 L890.0 1415.0 L905.0 1427.5 L925.0 1432.5 L945.0 1437.5 L960.0 1445.0 L957.5 1460.0 L945.0 1462.5 L942.5 1475.0 L950.0 1487.5 L960.0 1495.0 L970.0 1495.0 L980.0 1497.5 L982.5 1512.5 L985.0 1515.0 L977.5 1525.0 L975.0 1540.0 L982.5 1555.0 L990.0 1567.5 L982.5 1572.5 L965.0 1572.5 L950.0 1572.5 L946.0 1590.0 L945.0 1605.0 L945.0 1625.0 L942.5 1642.5 L935.0 1640.0 L927.5 1630.0 L920.0 1625.0 L910.0 1627.5 L905.0 1640.0 L900.0 1635.0 L892.5 1630.0 L885.0 1632.5 L875.0 1635.0 L870.0 1625.0 L865.0 1610.0 L860.0 1600.0 L857.5 1590.0 L855.0 1580.0 L845.0 1570.0 L840.0 1552.5 L835.0 1540.0 L820.0 1527.5 L817.5 1500.0 L800.0 1485.0 L787.5 1465.0 L790.0 1435.0 L805.0 1430.0 L797.5 1400.0 L805.0 1382.5Z" class="b"/>
<path d="M1109.5 1306.0 L1125.0 1310.0 L1140.0 1307.5 L1142.5 1320.0 L1145.0 1335.0 L1160.0 1350.0 L1167.5 1367.5 L1180.0 1380.0 L1197.5 1385.0 L1205.0 1400.0 L1220.0 1405.0 L1230.0 1420.0 L1227.5 1430.0 L1220.0 1440.0 L1217.5 1455.0 L1220.0 1465.0 L1210.0 1480.0 L1197.5 1495.0 L1180.0 1500.0 L1165.0 1505.0 L1160.0 1515.0 L1165.0 1525.0 L1167.5 1540.0 L1172.5 1545.0 L1160.0 1540.0 L1147.5 1540.0 L1142.5 1550.0 L1150.0 1565.0 L1145.0 1572.5 L1130.0 1557.5 L1115.0 1540.0 L1100.0 1530.0 L1090.0 1525.0 L1085.0 1515.0 L1080.0 1520.0 L1070.0 1522.5 L1055.0 1527.5 L1047.5 1520.0 L1040.0 1510.0 L1030.0 1505.0 L1020.0 1510.0 L1010.0 1512.5 L995.0 1510.0 L985.0 1515.0 L982.5 1512.5 L980.0 1497.5 L970.0 1495.0 L960.0 1495.0 L950.0 1487.5 L942.5 1475.0 L945.0 1462.5 L957.5 1460.0 L960.0 1445.0 L977.5 1446.0 L985.0 1445.0 L995.0 1440.0 L1005.0 1440.0 L1015.0 1435.0 L1025.0 1427.5 L1035.0 1422.5 L1035.0 1410.0 L1040.0 1402.5 L1052.5 1407.5 L1060.0 1415.0 L1065.0 1405.0 L1070.0 1392.5 L1065.0 1387.5 L1060.0 1375.0 L1057.5 1365.0 L1050.0 1360.0 L1045.0 1355.0 L1055.0 1347.5 L1065.0 1340.0 L1067.5 1330.0 L1080.0 1325.0 L1090.0 1322.5 L1100.0 1320.0Z" class="b"/>
<path d="M1232.5 1422.5 L1231.0 1410.0 L1232.5 1390.0 L1235.0 1370.0 L1242.5 1365.0 L1265.0 1365.0 L1280.0 1360.0 L1285.0 1350.0 L1292.5 1345.0 L1305.0 1340.0 L1317.5 1332.5 L1330.0 1332.5 L1345.0 1325.0 L1352.5 1317.5 L1360.0 1315.0 L1370.0 1325.0 L1380.0 1335.0 L1385.0 1345.0 L1385.0 1365.0 L1390.0 1390.0 L1397.5 1389.0 L1405.0 1375.0 L1420.0 1372.5 L1427.5 1375.0 L1435.0 1385.0 L1440.0 1395.0 L1435.0 1405.0 L1430.0 1420.0 L1420.0 1435.0 L1407.5 1445.0 L1400.0 1452.5 L1395.0 1460.0 L1387.5 1470.0 L1380.0 1475.0 L1370.0 1475.0 L1357.5 1480.0 L1350.0 1487.5 L1340.0 1490.0 L1320.0 1487.5 L1310.0 1490.0 L1300.0 1485.0 L1297.5 1472.5 L1292.5 1457.5 L1282.5 1450.0 L1272.5 1445.0 L1265.0 1447.5 L1262.5 1460.0 L1255.0 1470.0 L1247.5 1472.5 L1235.0 1462.5 L1222.5 1467.5 L1217.5 1465.0 L1215.0 1452.5 L1222.5 1445.0 L1227.5 1435.0Z" class="b"/>
<path d="M1222.5 1467.5 L1235.0 1462.5 L1247.5 1472.5 L1255.0 1470.0 L1262.5 1460.0 L1265.0 1447.5 L1272.5 1445.0 L1282.5 1450.0 L1292.5 1457.5 L1297.5 1472.5 L1300.0 1485.0 L1310.0 1490.0 L1320.0 1487.5 L1340.0 1490.0 L1350.0 1487.5 L1357.5 1480.0 L1370.0 1475.0 L1380.0 1475.0 L1395.0 1487.5 L1410.0 1500.0 L1390.0 1502.5 L1380.0 1505.0 L1370.0 1512.5 L1360.0 1515.0 L1350.0 1520.0 L1340.0 1525.0 L1335.0 1535.0 L1337.5 1545.0 L1345.0 1555.0 L1352.5 1562.5 L1355.0 1570.0 L1347.5 1572.5 L1345.0 1580.0 L1340.0 1590.0 L1332.5 1597.5 L1327.5 1605.0 L1330.0 1610.0 L1340.0 1615.0 L1355.0 1617.5 L1362.5 1622.5 L1365.0 1635.0 L1365.0 1650.0 L1367.5 1660.0 L1362.5 1667.5 L1355.0 1670.0 L1340.0 1670.0 L1320.0 1670.0 L1312.5 1670.0 L1305.0 1662.5 L1297.5 1660.0 L1272.5 1660.0 L1267.5 1652.5 L1260.0 1642.5 L1260.0 1625.0 L1260.0 1610.0 L1252.5 1600.0 L1240.0 1595.0 L1235.0 1600.0 L1230.0 1590.0 L1220.0 1585.0 L1210.0 1580.0 L1202.5 1572.5 L1197.5 1560.0 L1190.0 1552.5 L1180.0 1547.5 L1170.0 1540.0 L1162.5 1530.0 L1160.0 1520.0 L1157.5 1512.5 L1165.0 1502.5 L1185.0 1500.0 L1200.0 1495.0 L1215.0 1475.0Z" class="b"/>
<path d="M1410.0 1500.0 L1405.0 1495.0 L1400.0 1487.5 L1410.0 1480.0 L1425.0 1472.5 L1430.0 1465.0 L1440.0 1455.0 L1442.5 1440.0 L1450.0 1435.0 L1460.0 1435.0 L1470.0 1437.5 L1472.5 1445.0 L1480.0 1437.5 L1487.5 1440.0 L1495.0 1450.0 L1497.5 1460.0 L1492.5 1475.0 L1490.0 1490.0 L1487.5 1505.0 L1485.0 1515.0 L1482.5 1530.0 L1475.0 1537.5 L1465.0 1540.0 L1455.0 1540.0 L1445.0 1542.5 L1435.0 1545.0 L1430.0 1555.0 L1427.5 1567.5 L1422.5 1575.0 L1415.0 1580.0 L1407.5 1582.5 L1405.0 1570.0 L1400.0 1560.0 L1395.0 1555.0 L1390.0 1550.0 L1380.0 1547.5 L1370.0 1545.0 L1360.0 1542.5 L1352.5 1545.0 L1347.5 1550.0 L1345.0 1555.0 L1337.5 1545.0 L1335.0 1535.0 L1340.0 1525.0 L1350.0 1520.0 L1360.0 1515.0 L1370.0 1512.5 L1380.0 1505.0 L1390.0 1502.5Z" class="b"/>
<path d="M1130.0 1835.0 L1142.5 1832.5 L1150.0 1825.0 L1145.0 1815.0 L1145.0 1795.0 L1147.5 1782.5 L1160.0 1777.5 L1175.0 1772.5 L1180.0 1762.5 L1190.0 1755.0 L1200.0 1747.5 L1207.5 1750.0 L1215.0 1760.0 L1230.0 1770.0 L1240.0 1780.0 L1250.0 1790.0 L1257.5 1797.5 L1265.0 1800.0 L1270.0 1775.0 L1280.0 1762.5 L1290.0 1755.0 L1300.0 1757.5 L1310.0 1770.0 L1310.0 1780.0 L1315.0 1787.5 L1317.5 1800.0 L1325.0 1810.0 L1317.5 1822.5 L1322.5 1827.5 L1327.5 1837.5 L1332.5 1850.0 L1337.5 1860.0 L1340.0 1870.0 L1360.0 1867.5 L1380.0 1867.5 L1390.0 1872.5 L1391.0 1910.0 L1394.0 1945.0 L1380.0 1946.0 L1377.5 1960.0 L1355.0 1961.0 L1347.5 1960.0 L1350.0 1950.0 L1337.5 1932.5 L1325.0 1925.0 L1310.0 1932.5 L1297.5 1935.0 L1292.5 1950.0 L1275.0 1960.0 L1260.0 1967.5 L1250.0 1972.5 L1252.5 1995.0 L1260.0 2012.5 L1230.0 2024.0 L1200.0 2015.0 L1160.0 1995.0 L1135.0 1985.0 L1115.0 1985.0 L1117.5 1960.0 L1122.5 1940.0 L1125.0 1920.0 L1127.5 1900.0 L1127.5 1880.0 L1130.0 1860.0Z" class="b"/>
<path d="M1252.5 1995.0 L1265.0 2015.0 L1282.5 2045.0 L1292.5 2068.0 L1292.5 2077.5 L1220.0 2102.5 L1222.5 2115.0 L1220.0 2136.0 L1305.0 2115.0 L1339.0 2140.0 L1345.0 2115.0 L1352.5 2097.5 L1360.0 2092.5 L1360.0 2080.0 L1350.0 2055.0 L1335.0 2025.0 L1330.0 2000.0 L1330.0 2000.0 L1322.5 1990.0 L1330.0 1985.0 L1370.0 1980.0 L1370.0 1970.0 L1355.0 1961.0 L1347.5 1960.0 L1350.0 1950.0 L1337.5 1932.5 L1325.0 1925.0 L1310.0 1932.5 L1297.5 1935.0 L1292.5 1950.0 L1275.0 1960.0 L1260.0 1967.5 L1250.0 1972.5Z" class="b"/>
<path d="M952.5 1852.5 L975.0 1852.5 L982.5 1860.0 L982.5 1875.0 L1000.0 1877.5 L1025.0 1872.5 L1030.0 1860.0 L1027.5 1847.5 L1020.0 1835.0 L1017.5 1820.0 L1030.0 1815.0 L1037.5 1805.0 L1050.0 1807.5 L1060.0 1805.0 L1070.0 1812.5 L1082.5 1822.5 L1092.5 1830.0 L1105.0 1827.5 L1120.0 1827.5 L1130.0 1835.0 L1130.0 1860.0 L1127.5 1880.0 L1127.5 1900.0 L1125.0 1920.0 L1122.5 1940.0 L1117.5 1960.0 L1115.0 1985.0 L1107.5 1990.0 L1105.0 2000.0 L1107.5 2010.0 L1115.0 2017.5 L1125.0 2030.0 L1130.0 2050.0 L1125.0 2060.0 L1117.5 2085.0 L1100.0 2077.5 L1080.0 2067.5 L1070.0 2057.5 L1085.0 2045.0 L1077.5 2030.0 L1065.0 2022.5 L1052.5 2025.0 L1045.0 2035.0 L1040.0 2050.0 L1025.0 2062.5 L1015.0 2060.0 L1005.0 2030.0 L987.5 2035.0 L972.5 2035.0 L972.5 2047.5 L947.5 2047.5 L945.0 2042.5 L947.5 2030.0 L952.5 2022.5 L957.5 2010.0 L955.0 2000.0 L955.0 2000.0 L957.5 1980.0 L952.5 1960.0 L945.0 1945.0 L940.0 1920.0 L945.0 1900.0 L942.5 1880.0 L950.0 1865.0Z" class="b"/>
<path d="M947.5 2047.5 L972.5 2047.5 L972.5 2035.0 L987.5 2035.0 L1005.0 2030.0 L1015.0 2060.0 L1025.0 2062.5 L1040.0 2050.0 L1045.0 2035.0 L1052.5 2025.0 L1065.0 2022.5 L1077.5 2030.0 L1085.0 2045.0 L1070.0 2057.5 L1080.0 2067.5 L1100.0 2077.5 L1117.5 2085.0 L1100.0 2085.0 L1097.5 2100.0 L1100.0 2120.0 L1122.5 2120.0 L1122.5 2150.0 L1124.0 2192.5 L1090.0 2197.5 L1082.5 2210.0 L1095.0 2235.0 L1097.5 2260.0 L1065.0 2250.0 L1057.5 2280.0 L1055.0 2287.5 L1045.0 2287.5 L1040.0 2275.0 L1030.0 2272.5 L1020.0 2257.5 L1010.0 2260.0 L1000.0 2245.0 L990.0 2232.5 L982.5 2242.5 L970.0 2247.5 L960.0 2252.5 L952.5 2270.0 L940.0 2272.5 L920.0 2270.0 L890.0 2270.0 L895.0 2260.0 L892.5 2245.0 L895.0 2235.0 L897.5 2220.0 L900.0 2210.0 L895.0 2200.0 L887.5 2192.5 L882.5 2185.0 L882.5 2175.0 L885.0 2165.0 L892.5 2160.0 L900.0 2155.0 L897.5 2145.0 L900.0 2135.0 L905.0 2127.5 L915.0 2122.5 L922.5 2117.5 L930.0 2110.0 L930.0 2100.0 L927.5 2090.0 L925.0 2080.0 L927.5 2070.0 L935.0 2060.0 L935.0 2050.0 L945.0 2042.5Z" class="b"/>
<path d="M1575.0 1882.5 L1587.5 1872.5 L1595.0 1865.0 L1610.0 1860.0 L1620.0 1855.0 L1630.0 1845.0 L1647.5 1837.5 L1665.0 1840.0 L1680.0 1842.5 L1685.0 1830.0 L1690.0 1817.5 L1700.0 1810.0 L1715.0 1805.0 L1730.0 1810.0 L1745.0 1812.5 L1755.0 1807.5 L1765.0 1812.5 L1772.5 1820.0 L1775.0 1830.0 L1765.0 1835.0 L1755.0 1840.0 L1760.0 1845.0 L1752.5 1855.0 L1750.0 1865.0 L1760.0 1870.0 L1767.5 1872.5 L1775.0 1875.0 L1785.0 1870.0 L1790.0 1865.0 L1800.0 1870.0 L1810.0 1875.0 L1820.0 1880.0 L1822.5 1887.5 L1827.5 1895.0 L1835.0 1900.0 L1840.0 1905.0 L1847.5 1920.0 L1857.5 1930.0 L1865.0 1935.0 L1880.0 1937.5 L1887.5 1935.0 L1890.0 1940.0 L1900.0 1950.0 L1905.0 1960.0 L1912.5 1972.5 L1922.5 1977.5 L1932.5 1987.5 L1945.0 1990.0 L1950.0 1982.5 L1955.0 1987.5 L1965.0 1990.0 L1972.5 1997.5 L1977.5 1990.0 L1982.5 1987.5 L1987.5 1995.0 L1985.0 2000.0 L1977.5 2005.0 L1970.0 2010.0 L1960.0 2015.0 L1955.0 2025.0 L1945.0 2017.5 L1935.0 2012.5 L1920.0 2010.0 L1915.0 2020.0 L1900.0 2025.0 L1885.0 2017.5 L1870.0 2010.0 L1855.0 2020.0 L1842.5 2030.0 L1840.0 2050.0 L1825.0 2045.0 L1810.0 2037.5 L1797.5 2030.0 L1795.0 2010.0 L1787.5 2000.0 L1775.0 1980.0 L1762.5 1962.5 L1755.0 1970.0 L1755.0 1987.5 L1742.5 1990.0 L1730.0 1992.5 L1725.0 1995.0 L1727.5 2012.5 L1729.0 2050.0 L1700.0 2052.5 L1687.5 2055.0 L1677.5 2050.0 L1670.0 2007.5 L1647.5 2002.5 L1630.0 1995.0 L1625.0 1980.0 L1622.5 1970.0 L1600.0 1950.0 L1572.5 1920.0 L1587.5 1905.0 L1580.0 1895.0Z" class="b"/>
<path d="M1067.5 2295.0 L1082.5 2296.0 L1097.5 2322.5 L1105.0 2345.0 L1130.0 2345.0 L1140.0 2334.0 L1146.0 2370.0 L1107.5 2371.0 L1115.0 2385.0 L1135.0 2384.0 L1137.5 2377.5 L1150.0 2377.5 L1154.0 2391.0 L1225.0 2374.0 L1210.0 2310.0 L1247.5 2300.0 L1262.5 2365.0 L1248.5 2369.0 L1250.0 2376.0 L1240.0 2380.0 L1242.5 2397.5 L1239.0 2402.5 L1245.0 2435.0 L1152.5 2457.5 L1150.0 2467.5 L1145.0 2465.0 L1142.5 2459.0 L1120.0 2465.0 L1125.0 2489.0 L1140.0 2485.0 L1141.0 2500.0 L1162.5 2501.0 L1209.0 2490.0 L1215.0 2517.5 L1169.0 2529.0 L1145.0 2525.0 L1152.5 2555.0 L1145.0 2560.0 L1137.5 2561.0 L1130.0 2550.0 L1125.0 2540.0 L1117.5 2527.5 L1115.0 2507.5 L1080.0 2507.5 L1079.0 2486.0 L1049.0 2494.0 L1047.5 2472.5 L1040.0 2471.0 L1035.0 2452.5 L1041.0 2450.0 L1041.0 2444.0 L1059.0 2437.5 L1072.5 2457.5 L1085.0 2453.5 L1084.0 2448.5 L1097.5 2445.0 L1095.0 2432.5 L1089.0 2427.5 L1080.0 2430.0 L1080.0 2420.0 L1071.0 2417.5 L1067.5 2400.0 L1066.0 2377.5 L1064.0 2350.0 L1065.0 2332.5 L1067.5 2310.0Z" class="b"/>
<path d="M1322.5 2224.0 L1365.0 2164.0 L1402.5 2190.0 L1340.0 2266.0Z" class="b"/>
<path d="M1297.5 2274.0 L1340.0 2266.0 L1372.5 2303.5 L1357.5 2341.5 L1316.0 2352.5Z" class="b"/>
<path d="M1059.0 2437.5 L1089.0 2427.5 L1095.0 2432.5 L1097.5 2445.0 L1084.0 2448.5 L1085.0 2453.5 L1072.5 2457.5Z" class="b"/>
<path d="M1120.0 2465.0 L1142.5 2459.0 L1145.0 2465.0 L1141.0 2500.0 L1140.0 2485.0 L1125.0 2489.0Z" class="b"/>
<path d="M1145.0 2465.0 L1150.0 2467.5 L1152.5 2457.5 L1245.0 2435.0 L1255.0 2476.5 L1209.0 2490.0 L1162.5 2501.0 L1141.0 2500.0Z" class="b"/>
<path d="M422.5 541.0 L430.0 537.5 L440.0 530.0 L452.5 526.0 L462.5 527.5 L470.0 534.0 L477.5 537.5 L474.0 550.0 L470.0 557.5 L464.0 564.0 L470.0 570.0 L469.0 580.0 L472.5 600.0 L480.0 607.5 L492.5 617.5 L505.0 621.5 L522.5 625.0 L536.5 627.5" class="b"/>
<path d="M732.5 605.0 L735.0 620.0 L742.5 632.5 L750.0 642.5 L760.0 640.0 L772.5 640.0 L780.0 645.0 L790.0 652.5 L800.0 652.5 L807.5 662.5 L820.0 670.0 L830.0 682.5 L835.0 695.0 L842.5 705.0 L845.0 720.0 L850.0 740.0 L845.0 745.0 L832.5 747.5 L817.5 752.5 L807.5 757.5 L802.5 765.0 L800.0 775.0 L807.5 782.5 L812.5 792.5 L815.0 800.0 L817.5 810.0 L817.5 825.0 L825.0 835.0 L832.5 847.5 L827.5 855.0 L820.0 862.5 L827.5 865.0" class="b"/>
<path d="M815.0 800.0 L865.0 800.0 L890.0 802.5 L915.0 802.5 L935.0 800.0 L945.0 792.5 L955.0 795.0 L962.5 795.0 L970.0 797.5 L980.0 800.0 L1000.0 799.5 L1013.9 795.4 L1020.9 796.7 L1027.8 800.9 L1034.0 807.9 L1034.8 796.7 L1038.2 794.0 L1037.5 788.4 L1032.0 785.5 L1030.5 781.4 L1043.0 778.5 L1052.9 773.0 L1068.0 766.0 L1079.3 756.4 L1084.9 745.2 L1090.5 734.0 L1097.4 741.0 L1116.0 739.5" class="b"/>
<path d="M1073.0 1236.5 L1078.5 1256.0 L1084.0 1275.5 L1095.5 1289.0 L1103.5 1295.0 L1109.5 1306.0" class="b"/>
<path d="M1360.0 1315.0 L1352.5 1297.5 L1350.0 1282.5 L1340.0 1277.5 L1341.0 1270.0 L1350.0 1270.0 L1355.0 1255.0 L1356.0 1245.0 L1370.0 1247.5 L1385.0 1237.5" class="b"/>
<path d="M1062.5 1520.0 L1080.0 1530.0 L1090.0 1545.0 L1097.5 1560.0 L1102.5 1572.5 L1110.0 1585.0 L1115.0 1600.0 L1120.0 1615.0 L1127.5 1622.5 L1140.0 1630.0 L1155.0 1637.5 L1160.0 1650.0 L1165.0 1660.0 L1170.0 1672.5 L1175.0 1677.5 L1180.0 1667.5 L1190.0 1662.5 L1195.0 1670.0 L1200.0 1685.0 L1210.0 1700.0 L1215.0 1705.0 L1205.0 1710.0 L1200.0 1722.5 L1205.0 1732.5 L1207.5 1740.0 L1200.0 1747.5" class="b"/>
<path d="M1360.0 1667.5 L1380.0 1670.0 L1390.0 1680.0 L1395.0 1695.0 L1400.0 1705.0 L1405.0 1725.0 L1407.5 1740.0 L1405.0 1752.5 L1400.0 1762.5 L1392.5 1775.0 L1380.0 1785.0 L1370.0 1795.0 L1360.0 1805.0 L1347.5 1810.0 L1335.0 1812.5 L1325.0 1810.0 L1317.5 1817.5" class="b"/>
<path d="M1400.0 1762.5 L1415.0 1757.5 L1430.0 1755.0 L1440.0 1757.5 L1445.0 1772.5 L1450.0 1785.0 L1470.0 1782.5 L1472.5 1765.0 L1480.0 1750.0 L1495.0 1745.0 L1505.0 1740.0 L1512.5 1730.0 L1505.0 1722.5 L1515.0 1715.0 L1525.0 1710.0 L1535.0 1712.5 L1550.0 1710.0 L1560.0 1710.0 L1570.0 1702.5" class="b"/>
<path d="M1097.5 2260.0 L1105.0 2270.0 L1090.0 2277.5 L1102.5 2291.0 L1125.0 2287.5 L1127.5 2305.0 L1117.5 2312.5 L1120.0 2322.5 L1107.5 2325.0 L1097.5 2322.5 L1105.0 2345.0" class="b"/>
<path d="M992.5 2547.5 L1005.0 2547.5 L1012.5 2555.0 L1015.0 2565.0 L1037.5 2562.5 L1040.0 2570.0 L1052.5 2570.0 L1052.5 2562.5 L1059.0 2562.5 L1059.0 2569.0 L1107.5 2567.5" class="b"/>
<path d="M992.5 2547.5 L995.0 2570.0 L1002.5 2597.5 L997.5 2600.0 L1010.0 2660.0 L989.0 2665.0 L997.5 2704.0" class="b"/>
<path d="M1110.0 2609.0 L1067.5 2622.5 L1070.0 2650.0 L1067.5 2665.0 L1070.0 2685.0 L1077.5 2689.0 L1082.5 2672.5 L1126.0 2665.0" class="b"/>
<path d="M85.0 582.5 L97.5 566.0 L115.0 552.5 L116.0 542.5 L121.0 540.0 L119.0 517.5 L125.0 516.0 L135.0 530.0 L147.5 547.5 L151.0 552.5 L159.0 545.0 L162.5 552.5 L169.0 565.0 L177.5 567.5 L190.0 562.5 L192.5 552.5 L190.0 545.0 L191.0 532.5 L185.0 525.0 L175.0 524.0 L165.0 520.0 L157.5 512.5 L150.0 502.5 L142.5 492.5 L135.0 479.0 L140.0 476.0 L147.5 480.0 L154.0 485.0 L160.0 472.5 L167.5 469.0 L190.0 471.0 L212.5 470.0 L220.0 469.0 L227.5 477.5 L232.5 487.5 L230.0 495.0 L236.0 505.0 L245.0 511.0 L250.0 507.5 L262.5 511.0 L275.0 515.0 L282.5 512.5 L285.0 502.5 L292.5 500.0 L302.5 500.0 L307.5 506.0 L305.0 497.5 L304.0 485.0 L300.0 472.5 L292.5 470.0 L291.0 465.0 L300.0 464.0 L310.0 464.0 L320.0 460.0 L327.5 461.0 L327.5 475.0 L337.5 486.0 L350.0 500.0 L355.0 502.5 L365.0 500.0 L375.0 495.0 L382.5 490.0 L390.0 491.0 L397.5 494.0 L405.0 504.0 L412.5 500.0 L425.0 500.0 L432.5 502.5 L435.0 487.5 L440.0 475.0 L447.5 465.0 L450.0 452.5 L457.5 447.5 L465.0 450.0 L471.0 447.5 L477.5 451.0 L479.0 465.0 L480.0 474.0 L487.5 472.5 L497.5 472.5 L507.5 475.0 L515.0 472.5 L520.0 455.0 L522.5 442.5 L530.0 440.0 L540.0 437.5 L555.0 427.5 L570.0 417.5 L582.5 410.0 L590.0 409.0 L594.0 415.0 L589.0 425.0 L590.0 432.5 L602.5 442.5 L620.0 450.0 L635.0 447.5 L650.0 442.5 L667.5 439.0 L685.0 442.5 L700.0 454.0 L707.5 465.0 L717.5 470.0 L732.5 475.0 L739.0 482.5 L739.0 492.5 L752.5 516.0 L777.5 539.0 L805.0 540.0 L830.0 540.0 L842.5 547.5 L847.5 560.0 L846.0 577.5 L847.5 595.0 L852.5 610.0 L865.0 610.0 L875.0 602.5 L880.0 590.0 L897.5 592.5 L900.0 610.0 L902.5 625.0 L912.5 630.0 L925.0 625.0 L940.0 615.0 L955.0 607.5 L967.5 600.0 L980.0 597.5 L992.5 600.0 L997.5 610.0 L1000.0 625.0 L995.0 637.5 L985.0 645.0 L972.5 650.0 L965.0 660.0 L965.0 675.0 L972.5 680.0 L982.5 679.0 L990.0 670.0 L995.0 660.0 L1005.0 652.5 L1020.0 652.5 L1030.0 657.5 L1035.0 670.0 L1032.5 680.0 L1027.5 692.5 L1027.8 698.0 L1034.8 710.5 L1044.5 724.4 L1052.9 732.7 L1064.0 735.5 L1065.4 731.3 L1062.5 727.0 L1065.4 720.0 L1064.7 707.5 L1064.0 700.7 L1062.5 693.8 L1066.8 685.4 L1074.5 679.9 L1068.0 672.0 L1076.5 669.4 L1089.0 655.5 L1104.3 645.8 L1105.8 656.0 L1111.3 654.0 L1122.5 663.9 L1142.0 670.0 L1146.0 675.5 L1160.0 672.0 L1164.0 688.0 L1169.8 684.0 L1181.0 685.5 L1197.5 679.9 L1206.0 686.8 L1222.5 685.4 L1226.8 681.2 L1232.4 687.5 L1240.8 684.5 L1254.5 703.5 L1245.0 725.8 L1249.0 730.0 L1247.5 742.5 L1245.0 759.0 L1251.8 767.5 L1260.0 771.5 L1277.0 773.0 L1265.8 784.0 L1272.8 792.5 L1290.8 812.0 L1310.0 800.0 L1325.0 810.0 L1350.0 825.0 L1372.5 822.5 L1372.5 807.5 L1380.0 795.0 L1395.0 794.0 L1400.0 787.5 L1422.5 786.0 L1427.5 809.0 L1431.0 815.0 L1436.0 867.5 L1445.0 862.5 L1480.0 865.0 L1475.0 875.0 L1457.5 885.0 L1445.0 897.5 L1439.0 915.0 L1440.0 927.5 L1452.5 937.5 L1462.5 927.5 L1481.0 932.5 L1467.5 975.0 L1452.5 980.0 L1444.0 990.0 L1442.5 1002.5 L1455.0 1022.5 L1451.5 1030.0 L1450.0 1055.0 L1460.0 1060.0 L1450.0 1077.5 L1442.5 1087.5 L1437.5 1112.5 L1427.5 1117.5 L1402.5 1130.0 L1420.0 1162.5 L1437.5 1156.0 L1439.0 1167.5 L1437.5 1180.0 L1441.5 1190.0 L1435.0 1197.5 L1425.0 1205.0 L1435.0 1207.5 L1439.0 1225.0 L1452.5 1210.0 L1467.5 1197.5 L1470.0 1236.0 L1495.0 1215.0 L1507.5 1207.5 L1522.5 1265.0 L1547.5 1261.0 L1552.5 1280.0 L1546.0 1289.0 L1555.0 1322.5 L1570.0 1320.0 L1572.5 1327.5 L1580.0 1326.0 L1600.0 1320.0 L1600.0 1312.5 L1597.5 1305.0 L1600.0 1295.0 L1600.0 1280.0 L1615.0 1272.5 L1647.5 1265.0 L1665.0 1352.5 L1637.5 1359.0 L1655.0 1447.5 L1615.0 1454.0 L1612.5 1465.0 L1622.5 1467.5 L1631.0 1495.0 L1640.0 1495.0 L1639.0 1480.0 L1672.5 1474.0 L1684.0 1518.5 L1670.0 1521.0 L1667.5 1582.5 L1650.0 1587.5 L1656.0 1597.5 L1692.5 1587.5 L1697.5 1615.0 L1725.0 1610.0 L1734.0 1605.0 L1737.5 1616.0 L1752.5 1657.5 L1805.0 1645.0 L1807.5 1639.0 L1822.5 1636.0 L1830.0 1662.5 L1837.5 1685.0 L1850.0 1680.0 L1860.0 1672.5 L1870.0 1677.5 L1877.5 1686.5 L1867.5 1687.5 L1854.0 1697.5 L1864.0 1715.0 L1872.5 1727.5 L1875.0 1745.0 L1875.0 1775.0 L1877.5 1790.0 L1871.0 1797.5 L1867.5 1820.0 L1870.0 1840.0 L1877.5 1855.0 L1876.0 1867.5 L1870.0 1872.5 L1862.5 1875.0 L1865.0 1892.5 L1852.5 1895.0 L1835.0 1900.0 L1840.0 1905.0 L1847.5 1920.0 L1857.5 1930.0 L1865.0 1935.0 L1880.0 1937.5 L1887.5 1935.0 L1890.0 1940.0 L1900.0 1950.0 L1905.0 1960.0 L1912.5 1972.5 L1922.5 1977.5 L1932.5 1987.5 L1945.0 1990.0 L1950.0 1982.5 L1955.0 1987.5 L1965.0 1990.0 L1972.5 1997.5 L1977.5 1990.0 L1982.5 1987.5 L1987.5 1995.0 L1985.0 2000.0 L1977.5 2005.0 L1970.0 2010.0 L1960.0 2015.0 L1955.0 2025.0 L1945.0 2017.5 L1935.0 2012.5 L1920.0 2010.0 L1915.0 2020.0 L1900.0 2025.0 L1885.0 2017.5 L1870.0 2010.0 L1855.0 2020.0 L1842.5 2030.0 L1840.0 2050.0 L1825.0 2045.0 L1810.0 2037.5 L1797.5 2030.0 L1795.0 2010.0 L1787.5 2000.0 L1775.0 1980.0 L1762.5 1962.5 L1755.0 1970.0 L1755.0 1987.5 L1742.5 1990.0 L1730.0 1992.5 L1725.0 1995.0 L1727.5 2012.5 L1729.0 2050.0 L1700.0 2052.5 L1687.5 2055.0 L1677.5 2050.0 L1670.0 2007.5 L1647.5 2002.5 L1630.0 1995.0 L1625.0 1980.0 L1622.5 1970.0 L1600.0 1950.0 L1572.5 1990.0 L1575.0 2005.0 L1567.5 1987.5 L1550.0 1945.0 L1542.5 1950.0 L1540.0 1960.0 L1535.0 1972.5 L1529.0 1975.0 L1530.0 1987.5 L1535.0 2002.5 L1527.5 2005.0 L1520.0 2010.0 L1505.0 2020.0 L1495.0 2035.0 L1485.0 2045.0 L1475.0 2040.0 L1485.0 2030.0 L1492.5 2017.5 L1487.5 2007.5 L1480.0 1992.5 L1487.5 1985.0 L1492.5 1970.0 L1495.0 1950.0 L1490.0 1947.5 L1485.0 1905.0 L1460.0 1912.5 L1445.0 1920.0 L1445.0 1937.5 L1420.0 1940.0 L1395.0 1942.5 L1392.5 1945.0 L1380.0 1947.5 L1377.5 1960.0 L1372.5 1970.0 L1372.5 1980.0 L1355.0 1982.5 L1325.0 1985.0 L1330.0 2000.0 L1337.5 2025.0 L1347.5 2050.0 L1355.0 2068.0 L1360.0 2080.0 L1360.0 2092.5 L1352.5 2097.5 L1345.0 2115.0 L1339.0 2140.0 L1365.0 2162.5 L1402.5 2190.0 L1340.0 2266.0 L1372.5 2303.5 L1357.5 2341.5 L1316.0 2352.5 L1262.5 2365.0 L1248.5 2369.0 L1250.0 2376.0 L1240.0 2380.0 L1242.5 2397.5 L1239.0 2402.5 L1246.0 2435.0 L1255.0 2476.5 L1209.0 2489.0 L1215.0 2517.5 L1169.0 2529.0 L1144.0 2525.0 L1150.0 2540.0 L1152.5 2555.0 L1145.0 2560.0 L1137.5 2561.0 L1130.0 2550.0 L1125.0 2540.0 L1115.0 2555.0 L1107.5 2567.5 L1105.0 2580.0 L1100.0 2590.0 L1092.5 2597.5 L1095.0 2610.0 L1110.0 2609.0 L1125.0 2665.0 L1127.5 2676.0 L1100.0 2682.5 L1112.5 2739.0 L1061.0 2750.0 L1060.0 2729.0 L996.5 2704.0 L972.5 2727.5 L950.0 2766.5 L942.5 2765.0 L930.0 2760.0 L925.0 2745.0 L920.0 2735.0 L917.5 2720.0 L915.0 2705.0 L915.0 2695.0 L910.0 2685.0 L900.0 2685.0 L892.5 2680.0 L887.5 2670.0 L880.0 2662.5 L880.0 2655.0 L890.0 2645.0 L900.0 2642.5 L907.5 2645.0 L912.5 2635.0 L920.0 2627.5 L924.0 2625.0 L920.0 2620.0 L917.5 2612.5 L920.0 2600.0 L920.0 2590.0 L917.5 2580.0 L915.0 2570.0 L917.5 2555.0 L912.5 2545.0 L907.5 2535.0 L910.0 2525.0 L902.5 2522.5 L897.5 2517.5 L890.0 2510.0 L891.0 2500.0 L889.0 2485.0 L887.5 2470.0 L890.0 2460.0 L897.5 2455.0 L898.5 2445.0 L890.0 2440.0 L889.0 2430.0 L892.5 2420.0 L890.0 2410.0 L887.5 2400.0 L885.0 2390.0 L882.5 2380.0 L880.0 2370.0 L880.0 2360.0 L874.0 2345.0 L877.5 2335.0 L877.5 2325.0 L874.0 2315.0 L877.5 2305.0 L877.5 2295.0 L885.0 2285.0 L887.5 2272.5 L890.0 2267.5 L895.0 2260.0 L892.5 2245.0 L895.0 2235.0 L897.5 2220.0 L900.0 2210.0 L895.0 2200.0 L887.5 2192.5 L882.5 2185.0 L882.5 2175.0 L885.0 2165.0 L892.5 2160.0 L900.0 2155.0 L897.5 2145.0 L900.0 2135.0 L905.0 2127.5 L915.0 2122.5 L922.5 2117.5 L930.0 2110.0 L930.0 2100.0 L927.5 2090.0 L925.0 2080.0 L927.5 2070.0 L935.0 2060.0 L935.0 2050.0 L945.0 2042.5 L947.5 2030.0 L952.5 2022.5 L957.5 2010.0 L955.0 2000.0 L945.0 2045.0 L950.0 2025.0 L955.0 2000.0 L957.5 1980.0 L952.5 1960.0 L945.0 1945.0 L940.0 1920.0 L945.0 1900.0 L942.5 1880.0 L950.0 1865.0 L952.5 1852.5 L947.5 1840.0 L945.0 1825.0 L940.0 1815.0 L935.0 1800.0 L930.0 1780.0 L922.5 1760.0 L917.5 1747.5 L912.5 1740.0 L905.0 1730.0 L895.0 1720.0 L885.0 1705.0 L880.0 1685.0 L875.0 1670.0 L872.5 1655.0 L865.0 1647.5 L872.5 1637.5 L880.0 1630.0 L870.0 1615.0 L860.0 1600.0 L857.5 1590.0 L855.0 1580.0 L845.0 1570.0 L837.5 1560.0 L832.5 1552.5 L820.0 1545.0 L805.0 1537.5 L790.0 1525.0 L775.0 1515.0 L760.0 1505.0 L745.0 1492.5 L732.5 1480.0 L720.0 1470.0 L705.0 1462.5 L705.0 1445.0 L702.5 1420.0 L690.0 1405.0 L682.5 1390.0 L680.0 1375.0 L672.5 1360.0 L660.0 1350.0 L645.0 1340.0 L625.0 1335.0 L610.0 1325.0 L597.5 1320.0 L597.5 1305.0 L590.0 1287.5 L585.0 1280.0 L582.5 1265.0 L582.5 1248.0 L580.0 1240.0 L575.0 1225.0 L565.0 1212.5 L555.0 1205.0 L545.0 1200.0 L532.5 1192.5 L525.0 1180.0 L522.5 1167.5 L512.5 1157.5 L505.0 1145.0 L502.5 1130.0 L495.0 1117.5 L487.5 1115.0 L480.0 1112.5 L472.5 1102.5 L462.5 1095.0 L455.0 1087.5 L452.5 1075.0 L447.5 1067.5 L440.0 1060.0 L435.0 1052.5 L432.5 1042.5 L427.5 1035.0 L430.0 1025.0 L425.0 1022.5 L420.0 1020.0 L415.0 1015.0 L420.0 1010.0 L430.0 1011.0 L437.5 1007.5 L435.0 1000.0 L432.5 992.5 L435.0 985.0 L435.0 980.0 L430.0 977.5 L425.0 970.0 L420.0 962.5 L412.5 957.5 L405.0 952.5 L400.0 947.5 L397.5 937.5 L400.0 930.0 L407.5 927.5 L405.0 922.5 L397.5 917.5 L392.5 910.0 L390.0 902.5 L390.0 890.0 L387.5 880.0 L385.0 870.0 L380.0 865.0 L372.5 857.5 L370.0 847.5 L375.0 840.0 L365.0 832.5 L360.0 822.5 L367.5 815.0 L370.0 805.0 L360.0 802.5 L347.5 795.0 L335.0 790.0 L329.0 775.0 L322.5 765.0 L320.0 757.5 L312.5 750.0 L302.5 740.0 L300.0 730.0 L300.0 720.0 L305.0 712.5 L302.5 705.0 L297.5 695.0 L295.0 692.5 L285.0 700.0 L275.0 697.5 L262.5 692.5 L260.0 682.5 L270.0 680.0 L277.5 682.5 L275.0 675.0 L260.0 672.5 L250.0 667.5 L255.0 657.5 L252.5 645.0 L242.5 640.0 L237.5 642.5 L240.0 650.0 L235.0 655.0 L227.5 650.0 L230.0 640.0 L220.0 635.0 L210.0 625.0 L205.0 615.0 L195.0 617.5 L190.0 610.0 L182.5 597.5 L175.0 600.0 L167.5 605.0 L160.0 602.5 L147.5 597.5 L137.5 595.0 L130.0 590.0 L122.5 587.5 L117.5 600.0 L110.0 604.0 L100.0 600.0 L90.0 590.0Z" fill="none" stroke="#b6b3ae" stroke-width="4" stroke-linejoin="round"/>
</g>
<text x="859.5" y="140.2" font-size="99.5" fill="#333333" font-weight="700" text-anchor="start" textLength="2378" lengthAdjust="spacingAndGlyphs">Raportul dintre bărbați și femei în profil teritorial</text>
<text x="1478.5" y="210.7" font-size="50" fill="#333333" font-weight="400" text-anchor="start" textLength="1155" lengthAdjust="spacingAndGlyphs">PE RAIOANE ȘI REGIUNI (BĂRBAȚI LA 100 FEMEI)</text>
<rect x="1374.3" y="315.5" width="642" height="148.5" rx="8" fill="#fafafa" stroke="#dde1e7" stroke-width="3"/>
<text x="1416" y="410.6" font-size="50" fill="#a8a8a8" font-weight="400" text-anchor="start" stroke="#a8a8a8" stroke-width="1.4" stroke-linejoin="round" textLength="317.5" lengthAdjust="spacingAndGlyphs">Alege raionul</text>
<path d="M1932 380.2 L1964.2 380.2 L1948.1 396.2 Z" fill="#333"/>
<text x="2501" y="455" font-size="80" fill="#111111" font-weight="400" text-anchor="start" stroke="#111111" stroke-width="2.2" stroke-linejoin="round" textLength="179.6" lengthAdjust="spacingAndGlyphs">2024</text>
<rect x="2492" y="534.5" width="51" height="51" fill="#f4ecdc"/>
<text x="2593.5" y="580.5" font-size="52.5" fill="#0a0a0a" font-weight="400" text-anchor="start" textLength="115.6" lengthAdjust="spacingAndGlyphs">≤ 85</text>
<rect x="2492" y="644.1" width="51" height="51" fill="#f5e1b0"/>
<text x="2593.5" y="690.1" font-size="52.5" fill="#0a0a0a" font-weight="400" text-anchor="start" textLength="161" lengthAdjust="spacingAndGlyphs">86 - 89</text>
<rect x="2492" y="753.7" width="51" height="51" fill="#f3c976"/>
<text x="2593.5" y="799.7" font-size="52.5" fill="#0a0a0a" font-weight="400" text-anchor="start" textLength="161" lengthAdjust="spacingAndGlyphs">90 - 93</text>
<rect x="2492" y="863.3" width="51" height="51" fill="#eeb552"/>
<text x="2593.5" y="909.3" font-size="52.5" fill="#0a0a0a" font-weight="400" text-anchor="start" textLength="161" lengthAdjust="spacingAndGlyphs">94 - 96</text>
<rect x="2492" y="972.9" width="51" height="51" fill="#e89234"/>
<text x="2593.5" y="1018.9" font-size="52.5" fill="#0a0a0a" font-weight="400" text-anchor="start" textLength="161" lengthAdjust="spacingAndGlyphs">97 - 99</text>
<rect x="2492" y="1082.5" width="51" height="51" fill="#e86322"/>
<text x="2593.5" y="1128.5" font-size="52.5" fill="#0a0a0a" font-weight="400" text-anchor="start" textLength="145" lengthAdjust="spacingAndGlyphs">≥ 100</text>
<rect x="2492" y="1192.1" width="51" height="51" fill="#dde1ea"/>
<text x="2593.5" y="1238.1" font-size="52.5" fill="#0a0a0a" font-weight="400" text-anchor="start" textLength="230" lengthAdjust="spacingAndGlyphs">lipsă date</text>

<g fill="none" stroke="#c3cdd8" stroke-width="32" stroke-linecap="butt" transform="translate(3100,600) scale(0.201613)">
<path d="M700 1450 C400 1380 220 1100 220 800 L220 700 C220 380 480 140 800 140 L1060 140 C1380 140 1625 400 1625 700 L1625 820 C1625 1120 1420 1430 1150 1455"/>
<path d="M460 885 L460 1140 C460 1350 640 1500 850 1500 L960 1500 C1180 1500 1365 1340 1365 1140 L1365 880"/>
<path d="M590 510 C700 730 920 895 1190 895 C1300 895 1380 870 1435 845"/>
<path d="M680 680 C610 790 500 870 385 888"/>
</g>
<g fill="none" stroke="#c3cdd8" stroke-width="17" transform="translate(3080,600) scale(0.380373)">
<path d="M65 1655 L65 1090 C65 950 170 843 305 843 L770 843 C905 843 1015 950 1015 1090 L1015 1655 Z"/>
<path d="M255 1165 V1655 M822 1165 V1655 M538 1375 V1655"/>
<path d="M357 850 L340 1000 L390 1030 L350 1063 L538 1375 L725 1063 L685 1030 L735 1005 L715 850"/>
<path d="M408 850 L538 1345 L668 850"/>
<path d="M425 850 C430 910 480 952 538 952 C596 952 645 910 650 850"/>
<circle cx="538" cy="1030" r="24" fill="#c3cdd8" stroke="none"/>
<circle cx="538" cy="1130" r="24" fill="#c3cdd8" stroke="none"/>
<path d="M1255 455 L1240 295 C1240 165 1340 72 1465 72 L1660 72 C1785 72 1880 165 1880 295 L1865 455"/>
<path d="M1295 410 L1295 600 C1295 710 1400 800 1530 800 L1600 800 C1730 800 1825 710 1825 600 L1825 410"/>
<path d="M1290 445 C1245 445 1213 480 1213 520 C1213 562 1245 597 1290 597 M1830 445 C1878 448 1907 485 1907 522 C1907 562 1875 597 1830 597"/>
<path d="M1305 568 C1340 568 1362 545 1362 515 L1362 375 C1362 340 1385 312 1415 302 M1812 568 C1780 568 1757 545 1757 515 L1757 375 C1757 340 1735 312 1705 302"/>
<path d="M1390 260 C1420 330 1490 355 1555 355 C1625 355 1700 330 1725 260"/>
<path d="M1057 1660 L1057 1110 C1057 950 1180 845 1345 845 L1775 845 C1950 845 2063 950 2063 1110 L2063 1660 Z"/>
<path d="M1254 1175 V1660 M1880 1175 V1660 M1554 1550 V1660"/>
<path d="M1387 847 L1339 948 L1395 1011 L1360 1038 L1554 1545 L1747 1038 L1713 1011 L1771 948 L1721 847"/>
<path d="M1440 850 L1554 1500 L1668 850"/>
<path d="M1458 924 L1554 850 L1649 924"/>
<path d="M1501 903 L1554 980 L1607 903"/>
<path d="M1525 964 L1490 1088 L1554 1420 L1617 1088 L1585 964"/>
</g>

<rect x="2451" y="1356" width="1585" height="1350" rx="20" fill="#f6f7f9"/>
<g transform="translate(2600.0,1500) scale(0.20161)">
<path d="M414.0 600.0 L386.4 559.0 L345.0 510.6 L310.5 448.5 L290.0 386.0 L221.0 276.0 L172.5 228.0 L110.0 200.0 L62.0 204.0 L69.0 179.0 L103.5 155.0 L155.0 131.0 L172.5 148.0 L303.6 145.0 L341.6 110.0 L369.0 131.0 L428.0 83.0 L483.0 96.6 L538.0 121.0 L580.0 155.0 L617.6 172.5 L638.0 190.0 L628.0 207.0 L648.6 214.0 L717.6 210.0 L745.0 228.0 L724.5 269.0 L745.0 262.0 L776.0 297.0 L793.5 262.0 L897.0 272.6 L945.0 338.0 L973.0 372.6 L1021.0 348.5 L1056.0 393.0 L1066.0 448.5 L1056.0 510.6 L1035.0 559.0 L1038.5 600.0 L1021.0 552.0 L966.0 497.0 L904.0 503.7 L855.6 545.0 L780.0 490.0 L731.4 531.0 L731.4 497.0 L710.7 486.5 L662.4 503.7 L635.0 545.0 L524.4 531.0 L483.0 552.0Z" fill="#ffffff" stroke="#2e3650" stroke-width="28" stroke-linejoin="round"/>
<path d="M414.0 600.0 L483.0 552.0 L524.4 531.0 L635.0 545.0 L662.4 503.7 L710.7 486.5 L731.4 497.0 L731.4 531.0 L780.0 490.0 L855.6 545.0 L904.0 503.7 L966.0 497.0 L1021.0 552.0 L1038.5 600.0 L1035.0 634.0 L1104.0 668.5 L1138.5 696.0 L1194.0 717.0 L1187.0 786.0 L1200.6 820.0 L1197.0 861.7 L1173.0 861.7 L1090.0 889.0 L1035.0 910.0 L973.0 972.0 L917.7 958.0 L828.0 1006.6 L786.6 1041.0 L731.0 1034.0 L690.0 1048.0 L662.4 979.0 L621.0 868.6 L538.0 800.0 L510.6 751.0 L448.5 682.0Z" fill="#fbb430" stroke="#2e3650" stroke-width="28" stroke-linejoin="round"/>
<path d="M690.0 1048.0 L731.0 1034.0 L786.6 1041.0 L828.0 1006.6 L917.7 958.0 L973.0 972.0 L1035.0 910.0 L1090.0 889.0 L1173.0 861.7 L1197.0 861.7 L1242.0 903.0 L1325.0 944.5 L1345.5 993.0 L1339.0 1096.0 L1421.0 1151.5 L1394.0 1179.0 L1304.0 1193.0 L1270.0 1141.0 L1221.0 1158.0 L1166.0 1131.0 L1118.0 1141.0 L1087.0 1117.0 L1076.0 1179.0 L1059.0 1179.0 L1056.0 1100.0 L1021.0 1103.0 L959.0 1131.0 L956.0 1147.0 L966.0 1220.0 L987.0 1282.0 L952.0 1358.0 L883.0 1399.0 L883.0 1447.0 L842.0 1503.0 L790.0 1558.0 L793.0 1620.0 L711.0 1634.0 L680.0 1665.0 L621.0 1572.0 L662.0 1544.0 L652.0 1475.0 L638.0 1392.0 L642.0 1302.0 L662.0 1220.0 L690.0 1138.0 L683.0 1117.0 L690.0 1048.0Z" fill="#ffffff" stroke="#2e3650" stroke-width="28" stroke-linejoin="round"/>
</g>
<g transform="translate(3094.1,1500) scale(0.20161)">
<path d="M414.0 600.0 L386.4 559.0 L345.0 510.6 L310.5 448.5 L290.0 386.0 L221.0 276.0 L172.5 228.0 L110.0 200.0 L62.0 204.0 L69.0 179.0 L103.5 155.0 L155.0 131.0 L172.5 148.0 L303.6 145.0 L341.6 110.0 L369.0 131.0 L428.0 83.0 L483.0 96.6 L538.0 121.0 L580.0 155.0 L617.6 172.5 L638.0 190.0 L628.0 207.0 L648.6 214.0 L717.6 210.0 L745.0 228.0 L724.5 269.0 L745.0 262.0 L776.0 297.0 L793.5 262.0 L897.0 272.6 L945.0 338.0 L973.0 372.6 L1021.0 348.5 L1056.0 393.0 L1066.0 448.5 L1056.0 510.6 L1035.0 559.0 L1038.5 600.0 L1021.0 552.0 L966.0 497.0 L904.0 503.7 L855.6 545.0 L780.0 490.0 L731.4 531.0 L731.4 497.0 L710.7 486.5 L662.4 503.7 L635.0 545.0 L524.4 531.0 L483.0 552.0Z" fill="#fbb430" stroke="#2e3650" stroke-width="28" stroke-linejoin="round"/>
<path d="M414.0 600.0 L483.0 552.0 L524.4 531.0 L635.0 545.0 L662.4 503.7 L710.7 486.5 L731.4 497.0 L731.4 531.0 L780.0 490.0 L855.6 545.0 L904.0 503.7 L966.0 497.0 L1021.0 552.0 L1038.5 600.0 L1035.0 634.0 L1104.0 668.5 L1138.5 696.0 L1194.0 717.0 L1187.0 786.0 L1200.6 820.0 L1197.0 861.7 L1173.0 861.7 L1090.0 889.0 L1035.0 910.0 L973.0 972.0 L917.7 958.0 L828.0 1006.6 L786.6 1041.0 L731.0 1034.0 L690.0 1048.0 L662.4 979.0 L621.0 868.6 L538.0 800.0 L510.6 751.0 L448.5 682.0Z" fill="#ffffff" stroke="#2e3650" stroke-width="28" stroke-linejoin="round"/>
<path d="M690.0 1048.0 L731.0 1034.0 L786.6 1041.0 L828.0 1006.6 L917.7 958.0 L973.0 972.0 L1035.0 910.0 L1090.0 889.0 L1173.0 861.7 L1197.0 861.7 L1242.0 903.0 L1325.0 944.5 L1345.5 993.0 L1339.0 1096.0 L1421.0 1151.5 L1394.0 1179.0 L1304.0 1193.0 L1270.0 1141.0 L1221.0 1158.0 L1166.0 1131.0 L1118.0 1141.0 L1087.0 1117.0 L1076.0 1179.0 L1059.0 1179.0 L1056.0 1100.0 L1021.0 1103.0 L959.0 1131.0 L956.0 1147.0 L966.0 1220.0 L987.0 1282.0 L952.0 1358.0 L883.0 1399.0 L883.0 1447.0 L842.0 1503.0 L790.0 1558.0 L793.0 1620.0 L711.0 1634.0 L680.0 1665.0 L621.0 1572.0 L662.0 1544.0 L652.0 1475.0 L638.0 1392.0 L642.0 1302.0 L662.0 1220.0 L690.0 1138.0 L683.0 1117.0 L690.0 1048.0Z" fill="#ffffff" stroke="#2e3650" stroke-width="28" stroke-linejoin="round"/>
</g>
<g transform="translate(3587.4,1500) scale(0.20161)">
<path d="M414.0 600.0 L386.4 559.0 L345.0 510.6 L310.5 448.5 L290.0 386.0 L221.0 276.0 L172.5 228.0 L110.0 200.0 L62.0 204.0 L69.0 179.0 L103.5 155.0 L155.0 131.0 L172.5 148.0 L303.6 145.0 L341.6 110.0 L369.0 131.0 L428.0 83.0 L483.0 96.6 L538.0 121.0 L580.0 155.0 L617.6 172.5 L638.0 190.0 L628.0 207.0 L648.6 214.0 L717.6 210.0 L745.0 228.0 L724.5 269.0 L745.0 262.0 L776.0 297.0 L793.5 262.0 L897.0 272.6 L945.0 338.0 L973.0 372.6 L1021.0 348.5 L1056.0 393.0 L1066.0 448.5 L1056.0 510.6 L1035.0 559.0 L1038.5 600.0 L1021.0 552.0 L966.0 497.0 L904.0 503.7 L855.6 545.0 L780.0 490.0 L731.4 531.0 L731.4 497.0 L710.7 486.5 L662.4 503.7 L635.0 545.0 L524.4 531.0 L483.0 552.0Z" fill="#ffffff" stroke="#2e3650" stroke-width="28" stroke-linejoin="round"/>
<path d="M414.0 600.0 L483.0 552.0 L524.4 531.0 L635.0 545.0 L662.4 503.7 L710.7 486.5 L731.4 497.0 L731.4 531.0 L780.0 490.0 L855.6 545.0 L904.0 503.7 L966.0 497.0 L1021.0 552.0 L1038.5 600.0 L1035.0 634.0 L1104.0 668.5 L1138.5 696.0 L1194.0 717.0 L1187.0 786.0 L1200.6 820.0 L1197.0 861.7 L1173.0 861.7 L1090.0 889.0 L1035.0 910.0 L973.0 972.0 L917.7 958.0 L828.0 1006.6 L786.6 1041.0 L731.0 1034.0 L690.0 1048.0 L662.4 979.0 L621.0 868.6 L538.0 800.0 L510.6 751.0 L448.5 682.0Z" fill="#ffffff" stroke="#2e3650" stroke-width="28" stroke-linejoin="round"/>
<path d="M690.0 1048.0 L731.0 1034.0 L786.6 1041.0 L828.0 1006.6 L917.7 958.0 L973.0 972.0 L1035.0 910.0 L1090.0 889.0 L1173.0 861.7 L1197.0 861.7 L1242.0 903.0 L1325.0 944.5 L1345.5 993.0 L1339.0 1096.0 L1421.0 1151.5 L1394.0 1179.0 L1304.0 1193.0 L1270.0 1141.0 L1221.0 1158.0 L1166.0 1131.0 L1118.0 1141.0 L1087.0 1117.0 L1076.0 1179.0 L1059.0 1179.0 L1056.0 1100.0 L1021.0 1103.0 L959.0 1131.0 L956.0 1147.0 L966.0 1220.0 L987.0 1282.0 L952.0 1358.0 L883.0 1399.0 L883.0 1447.0 L842.0 1503.0 L790.0 1558.0 L793.0 1620.0 L711.0 1634.0 L680.0 1665.0 L621.0 1572.0 L662.0 1544.0 L652.0 1475.0 L638.0 1392.0 L642.0 1302.0 L662.0 1220.0 L690.0 1138.0 L683.0 1117.0 L690.0 1048.0Z" fill="#fbb430" stroke="#2e3650" stroke-width="28" stroke-linejoin="round"/>
</g>
<text x="2751" y="1945" font-size="64" fill="#111111" font-weight="400" text-anchor="middle" stroke="#111111" stroke-width="1.9" stroke-linejoin="round" textLength="202.5" lengthAdjust="spacingAndGlyphs">Centru</text>
<text x="3243.5" y="1945" font-size="64" fill="#111111" font-weight="400" text-anchor="middle" stroke="#111111" stroke-width="1.9" stroke-linejoin="round" textLength="153" lengthAdjust="spacingAndGlyphs">Nord</text>
<text x="3737" y="1945" font-size="64" fill="#111111" font-weight="400" text-anchor="middle" stroke="#111111" stroke-width="1.9" stroke-linejoin="round" textLength="111" lengthAdjust="spacingAndGlyphs">Sud</text>
<text x="2750.7" y="2028.3" font-size="56" fill="#111111" font-weight="400" text-anchor="middle" textLength="61" lengthAdjust="spacingAndGlyphs">90</text>
<text x="3243" y="2028.3" font-size="56" fill="#111111" font-weight="400" text-anchor="middle" textLength="61" lengthAdjust="spacingAndGlyphs">88</text>
<text x="3737" y="2028.3" font-size="56" fill="#111111" font-weight="400" text-anchor="middle" textLength="61" lengthAdjust="spacingAndGlyphs">89</text>
<line x1="2610.6" y1="2169" x2="3877" y2="2169" stroke="#d9dee6" stroke-width="6" stroke-dasharray="22 21"/>
<text x="2610.6" y="2347" font-size="90" fill="#111111" font-weight="400" text-anchor="start" stroke="#111111" stroke-width="2.6" stroke-linejoin="round" textLength="351.5" lengthAdjust="spacingAndGlyphs">Chișinău</text>
<text x="2610.6" y="2448.7" font-size="56" fill="#111111" font-weight="400" text-anchor="start" textLength="1274.4" lengthAdjust="spacingAndGlyphs">La 100 femei revin cu 4 bărbați mai puțin decât media</text>
<text x="2610.6" y="2516.7" font-size="56" fill="#111111" font-weight="400" text-anchor="start" textLength="816.5" lengthAdjust="spacingAndGlyphs">pe țară de 87 bărbați la 100 femei.</text>
<text x="114.9" y="2944.6" font-size="56" fill="#8c96a0" font-weight="400" text-anchor="middle" textLength="120" lengthAdjust="spacingAndGlyphs">2015</text>
<circle cx="114.9" cy="2981" r="7.8" fill="#d5dae3"/>
<text x="315.9" y="2944.6" font-size="56" fill="#8c96a0" font-weight="400" text-anchor="middle" textLength="120" lengthAdjust="spacingAndGlyphs">2016</text>
<circle cx="315.9" cy="2981" r="7.8" fill="#d5dae3"/>
<text x="516.8" y="2944.6" font-size="56" fill="#8c96a0" font-weight="400" text-anchor="middle" textLength="120" lengthAdjust="spacingAndGlyphs">2017</text>
<circle cx="516.8" cy="2981" r="7.8" fill="#d5dae3"/>
<text x="717.8" y="2944.6" font-size="56" fill="#8c96a0" font-weight="400" text-anchor="middle" textLength="120" lengthAdjust="spacingAndGlyphs">2018</text>
<circle cx="717.8" cy="2981" r="7.8" fill="#d5dae3"/>
<text x="918.8" y="2944.6" font-size="56" fill="#8c96a0" font-weight="400" text-anchor="middle" textLength="120" lengthAdjust="spacingAndGlyphs">2019</text>
<circle cx="918.8" cy="2981" r="7.8" fill="#d5dae3"/>
<text x="1119.8" y="2944.6" font-size="56" fill="#8c96a0" font-weight="400" text-anchor="middle" textLength="120" lengthAdjust="spacingAndGlyphs">2020</text>
<circle cx="1119.8" cy="2981" r="7.8" fill="#d5dae3"/>
<text x="1320.7" y="2944.6" font-size="56" fill="#8c96a0" font-weight="400" text-anchor="middle" textLength="120" lengthAdjust="spacingAndGlyphs">2021</text>
<circle cx="1320.7" cy="2981" r="7.8" fill="#d5dae3"/>
<text x="1521.7" y="2944.6" font-size="56" fill="#8c96a0" font-weight="400" text-anchor="middle" textLength="120" lengthAdjust="spacingAndGlyphs">2022</text>
<circle cx="1521.7" cy="2981" r="7.8" fill="#d5dae3"/>
<text x="1722.7" y="2944.6" font-size="56" fill="#8c96a0" font-weight="400" text-anchor="middle" textLength="120" lengthAdjust="spacingAndGlyphs">2023</text>
<circle cx="1722.7" cy="2981" r="7.8" fill="#d5dae3"/>
<text x="1923.6" y="2944.6" font-size="56" fill="#333333" font-weight="400" text-anchor="middle" textLength="120" lengthAdjust="spacingAndGlyphs">2024</text>
<circle cx="1923.6" cy="2981" r="7.8" fill="#2e3650"/>
<rect x="93.3" y="3008.4" width="1854.4" height="19.5" rx="9.75" fill="#f9fafb" stroke="#d5dbe4" stroke-width="7.4"/>
<path d="M1924.5 2999.5 L1947.3 3050.5 L1924.5 3038 L1901.9 3050.5 Z" fill="#2e3650"/>
<text x="261.5" y="3135.3" font-size="49.5" fill="#87929c" font-weight="400" text-anchor="start" textLength="1517.5" lengthAdjust="spacingAndGlyphs">Poziționați cursorul pe grafic pentru a vedea datele pentru un anumit an</text>
<text x="1894.8" y="3233" font-size="50" fill="#87929c" textLength="2159" lengthAdjust="spacingAndGlyphs">Sursa: <tspan fill="#3a7bbd">www.genderpulse.md</tspan> în baza datelor Biroului Național de Statistică al Republicii Moldova.</text>
</svg>
</body></html>
